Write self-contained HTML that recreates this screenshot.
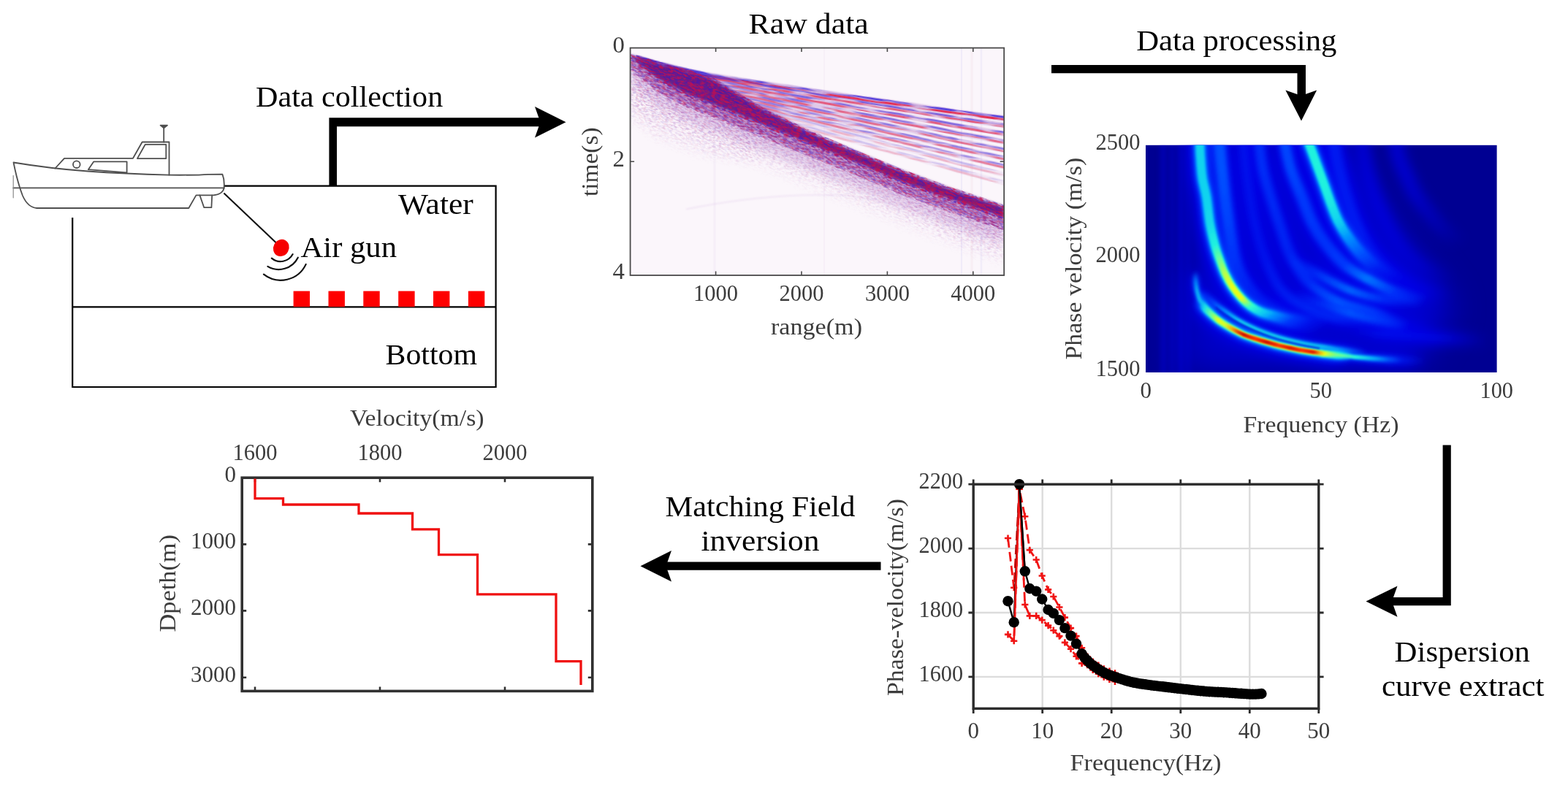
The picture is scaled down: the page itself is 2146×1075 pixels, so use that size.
<!DOCTYPE html>
<html lang="en">
<head>
<meta charset="utf-8">
<title>Workflow: data collection, processing, dispersion curve extraction and matching field inversion</title>
<style>
html,body{margin:0;padding:0;background:#fff;}
body{width:2146px;height:1075px;overflow:hidden;}
svg{display:block;font-family:"Liberation Serif", "DejaVu Serif", serif;}
text{white-space:pre;}
</style>
</head>
<body>
<svg width="2146" height="1075" viewBox="0 0 2146 1075">
<defs>
<clipPath id="rclip"><rect x="862.6" y="65.6" width="511.6" height="311.4"/></clipPath>
<filter id="spR" filterUnits="userSpaceOnUse" x="500" y="-400" width="1300" height="1100" color-interpolation-filters="sRGB"><feTurbulence type="fractalNoise" baseFrequency="0.15 0.50" numOctaves="2" seed="11" result="n"/><feColorMatrix in="n" type="matrix" values="0 0 0 0 0.78  0 0 0 0 0.06  0 0 0 0 0.3  6 0 0 0 -2.75" result="c"/><feComposite in="c" in2="SourceGraphic" operator="in"/></filter>
<filter id="spB" filterUnits="userSpaceOnUse" x="500" y="-400" width="1300" height="1100" color-interpolation-filters="sRGB"><feTurbulence type="fractalNoise" baseFrequency="0.15 0.50" numOctaves="2" seed="23" result="n"/><feColorMatrix in="n" type="matrix" values="0 0 0 0 0.27  0 0 0 0 0.08  0 0 0 0 0.74  0 6 0 0 -2.65" result="c"/><feComposite in="c" in2="SourceGraphic" operator="in"/></filter>
<filter id="hzR" filterUnits="userSpaceOnUse" x="500" y="-400" width="1300" height="1100" color-interpolation-filters="sRGB"><feGaussianBlur in="SourceGraphic" stdDeviation="7" result="sb"/><feTurbulence type="fractalNoise" baseFrequency="0.2 0.55" numOctaves="2" seed="61" result="n"/><feColorMatrix in="n" type="matrix" values="0 0 0 0 0.8  0 0 0 0 0.14  0 0 0 0 0.42  7 0 0 0 -3.55" result="c"/><feComposite in="c" in2="sb" operator="in"/></filter>
<filter id="hzB" filterUnits="userSpaceOnUse" x="500" y="-400" width="1300" height="1100" color-interpolation-filters="sRGB"><feGaussianBlur in="SourceGraphic" stdDeviation="7" result="sb"/><feTurbulence type="fractalNoise" baseFrequency="0.2 0.55" numOctaves="2" seed="67" result="n"/><feColorMatrix in="n" type="matrix" values="0 0 0 0 0.36  0 0 0 0 0.2  0 0 0 0 0.8  0 7 0 0 -3.55" result="c"/><feComposite in="c" in2="sb" operator="in"/></filter>
<filter id="hzP" filterUnits="userSpaceOnUse" x="500" y="-400" width="1300" height="1100" color-interpolation-filters="sRGB"><feGaussianBlur in="SourceGraphic" stdDeviation="7" result="sb"/><feTurbulence type="fractalNoise" baseFrequency="0.16 0.5" numOctaves="2" seed="37" result="n"/><feColorMatrix in="n" type="matrix" values="0 0 0 0 0.56  0 0 0 0 0.18  0 0 0 0 0.64  0 0 7 0 -3.55" result="c"/><feComposite in="c" in2="sb" operator="in"/></filter>
<filter id="fnR" filterUnits="userSpaceOnUse" x="500" y="-400" width="1300" height="1100" color-interpolation-filters="sRGB"><feGaussianBlur in="SourceGraphic" stdDeviation="0.6" result="sb"/><feTurbulence type="fractalNoise" baseFrequency="0.03 0.25" numOctaves="2" seed="41" result="n"/><feColorMatrix in="n" type="matrix" values="0 0 0 0 0.9  0 0 0 0 0.14  0 0 0 0 0.28  4 0 0 0 -1.25" result="c"/><feComposite in="c" in2="sb" operator="in"/></filter>
<filter id="fnB" filterUnits="userSpaceOnUse" x="500" y="-400" width="1300" height="1100" color-interpolation-filters="sRGB"><feGaussianBlur in="SourceGraphic" stdDeviation="0.7" result="sb"/><feTurbulence type="fractalNoise" baseFrequency="0.03 0.25" numOctaves="2" seed="53" result="n"/><feColorMatrix in="n" type="matrix" values="0 0 0 0 0.3  0 0 0 0 0.22  0 0 0 0 0.86  0 4 0 0 -1.35" result="c"/><feComposite in="c" in2="sb" operator="in"/></filter>
<filter id="rb1" filterUnits="userSpaceOnUse" x="800" y="0" width="640" height="440"><feGaussianBlur stdDeviation="0.8"/></filter>
<filter id="rb2" filterUnits="userSpaceOnUse" x="800" y="0" width="640" height="440"><feGaussianBlur stdDeviation="2"/></filter>
<filter id="rb6" filterUnits="userSpaceOnUse" x="800" y="0" width="640" height="440"><feGaussianBlur stdDeviation="7"/></filter>
<linearGradient id="hz1" gradientUnits="userSpaceOnUse" x1="1100" y1="198" x2="1077" y2="253"><stop offset="0" stop-color="#000" stop-opacity=".85"/><stop offset=".3" stop-color="#000" stop-opacity=".5"/><stop offset=".65" stop-color="#000" stop-opacity=".2"/><stop offset="1" stop-color="#000" stop-opacity="0"/></linearGradient>
<linearGradient id="hz2" gradientUnits="userSpaceOnUse" x1="930" y1="120" x2="900" y2="215"><stop offset="0" stop-color="#000" stop-opacity=".6"/><stop offset=".5" stop-color="#000" stop-opacity=".32"/><stop offset="1" stop-color="#000" stop-opacity="0"/></linearGradient>
<clipPath id="hclip"><rect x="1568.0" y="198.8" width="480.6" height="311.2"/></clipPath>
<filter id="hb1" x="1508.0" y="138.8" width="601" height="431" filterUnits="userSpaceOnUse"><feGaussianBlur stdDeviation="1.0"/></filter>
<filter id="hb2" x="1508.0" y="138.8" width="601" height="431" filterUnits="userSpaceOnUse"><feGaussianBlur stdDeviation="1.5"/></filter>
<filter id="hb3" x="1508.0" y="138.8" width="601" height="431" filterUnits="userSpaceOnUse"><feGaussianBlur stdDeviation="2.2"/></filter>
<filter id="hb4" x="1508.0" y="138.8" width="601" height="431" filterUnits="userSpaceOnUse"><feGaussianBlur stdDeviation="3.6"/></filter>
<filter id="hb8" x="1508.0" y="138.8" width="601" height="431" filterUnits="userSpaceOnUse"><feGaussianBlur stdDeviation="7.5"/></filter>
<filter id="hb20" x="1508.0" y="138.8" width="601" height="431" filterUnits="userSpaceOnUse"><feGaussianBlur stdDeviation="22"/></filter>
<linearGradient id="hgA00" gradientUnits="userSpaceOnUse" x1="1636.0" y1="372" x2="1654" y2="427"><stop offset="0.0000" stop-color="#0006e8" stop-opacity="0.00"/><stop offset="0.1992" stop-color="#0006e8" stop-opacity="1.00"/><stop offset="0.4388" stop-color="#0006e8" stop-opacity="1.00"/><stop offset="0.6918" stop-color="#0006e8" stop-opacity="1.00"/><stop offset="0.8757" stop-color="#0006e8" stop-opacity="1.00"/><stop offset="1.0000" stop-color="#0006e8" stop-opacity="0.00"/></linearGradient>
<linearGradient id="hgA01" gradientUnits="userSpaceOnUse" x1="1636.0" y1="372" x2="1654" y2="427"><stop offset="0.0000" stop-color="#0040ff" stop-opacity="0.00"/><stop offset="0.1992" stop-color="#0040ff" stop-opacity="1.00"/><stop offset="0.4388" stop-color="#0040ff" stop-opacity="1.00"/><stop offset="0.6918" stop-color="#0040ff" stop-opacity="1.00"/><stop offset="0.8757" stop-color="#0040ff" stop-opacity="1.00"/><stop offset="1.0000" stop-color="#0040ff" stop-opacity="0.00"/></linearGradient>
<linearGradient id="hgA02" gradientUnits="userSpaceOnUse" x1="1636.0" y1="372" x2="1654" y2="427"><stop offset="0.0000" stop-color="#00b4ff" stop-opacity="0.00"/><stop offset="0.1992" stop-color="#00b4ff" stop-opacity="0.57"/><stop offset="0.4388" stop-color="#00b4ff" stop-opacity="1.00"/><stop offset="0.6918" stop-color="#00b4ff" stop-opacity="1.00"/><stop offset="0.8757" stop-color="#00b4ff" stop-opacity="0.14"/><stop offset="1.0000" stop-color="#00b4ff" stop-opacity="0.00"/></linearGradient>
<linearGradient id="hgA03" gradientUnits="userSpaceOnUse" x1="1636.0" y1="372" x2="1654" y2="427"><stop offset="0.0000" stop-color="#28ffd8" stop-opacity="0.00"/><stop offset="0.1992" stop-color="#28ffd8" stop-opacity="0.00"/><stop offset="0.4388" stop-color="#28ffd8" stop-opacity="0.17"/><stop offset="0.6918" stop-color="#28ffd8" stop-opacity="0.33"/><stop offset="0.8757" stop-color="#28ffd8" stop-opacity="0.00"/><stop offset="1.0000" stop-color="#28ffd8" stop-opacity="0.00"/></linearGradient>
<linearGradient id="hgA0" gradientUnits="userSpaceOnUse" x1="1638.5" y1="402" x2="1850" y2="488.4"><stop offset="0.0000" stop-color="#0006e8" stop-opacity="0.00"/><stop offset="0.0373" stop-color="#0006e8" stop-opacity="1.00"/><stop offset="0.0727" stop-color="#0006e8" stop-opacity="1.00"/><stop offset="0.1262" stop-color="#0006e8" stop-opacity="1.00"/><stop offset="0.1785" stop-color="#0006e8" stop-opacity="1.00"/><stop offset="0.2268" stop-color="#0006e8" stop-opacity="1.00"/><stop offset="0.2746" stop-color="#0006e8" stop-opacity="1.00"/><stop offset="0.3523" stop-color="#0006e8" stop-opacity="1.00"/><stop offset="0.4254" stop-color="#0006e8" stop-opacity="1.00"/><stop offset="0.4972" stop-color="#0006e8" stop-opacity="1.00"/><stop offset="0.5685" stop-color="#0006e8" stop-opacity="1.00"/><stop offset="0.6383" stop-color="#0006e8" stop-opacity="1.00"/><stop offset="0.7080" stop-color="#0006e8" stop-opacity="1.00"/><stop offset="0.7762" stop-color="#0006e8" stop-opacity="1.00"/><stop offset="0.8134" stop-color="#0006e8" stop-opacity="1.00"/><stop offset="0.8436" stop-color="#0006e8" stop-opacity="1.00"/><stop offset="0.9221" stop-color="#0006e8" stop-opacity="1.00"/><stop offset="1.0000" stop-color="#0006e8" stop-opacity="0.00"/></linearGradient>
<linearGradient id="hgA1" gradientUnits="userSpaceOnUse" x1="1638.5" y1="402" x2="1850" y2="488.4"><stop offset="0.0000" stop-color="#0040ff" stop-opacity="0.00"/><stop offset="0.0373" stop-color="#0040ff" stop-opacity="1.00"/><stop offset="0.0727" stop-color="#0040ff" stop-opacity="1.00"/><stop offset="0.1262" stop-color="#0040ff" stop-opacity="1.00"/><stop offset="0.1785" stop-color="#0040ff" stop-opacity="1.00"/><stop offset="0.2268" stop-color="#0040ff" stop-opacity="1.00"/><stop offset="0.2746" stop-color="#0040ff" stop-opacity="1.00"/><stop offset="0.3523" stop-color="#0040ff" stop-opacity="1.00"/><stop offset="0.4254" stop-color="#0040ff" stop-opacity="1.00"/><stop offset="0.4972" stop-color="#0040ff" stop-opacity="1.00"/><stop offset="0.5685" stop-color="#0040ff" stop-opacity="1.00"/><stop offset="0.6383" stop-color="#0040ff" stop-opacity="1.00"/><stop offset="0.7080" stop-color="#0040ff" stop-opacity="1.00"/><stop offset="0.7762" stop-color="#0040ff" stop-opacity="1.00"/><stop offset="0.8134" stop-color="#0040ff" stop-opacity="1.00"/><stop offset="0.8436" stop-color="#0040ff" stop-opacity="1.00"/><stop offset="0.9221" stop-color="#0040ff" stop-opacity="1.00"/><stop offset="1.0000" stop-color="#0040ff" stop-opacity="0.00"/></linearGradient>
<linearGradient id="hgA2" gradientUnits="userSpaceOnUse" x1="1638.5" y1="402" x2="1850" y2="488.4"><stop offset="0.0000" stop-color="#00b4ff" stop-opacity="0.00"/><stop offset="0.0373" stop-color="#00b4ff" stop-opacity="0.14"/><stop offset="0.0727" stop-color="#00b4ff" stop-opacity="1.00"/><stop offset="0.1262" stop-color="#00b4ff" stop-opacity="1.00"/><stop offset="0.1785" stop-color="#00b4ff" stop-opacity="1.00"/><stop offset="0.2268" stop-color="#00b4ff" stop-opacity="1.00"/><stop offset="0.2746" stop-color="#00b4ff" stop-opacity="1.00"/><stop offset="0.3523" stop-color="#00b4ff" stop-opacity="1.00"/><stop offset="0.4254" stop-color="#00b4ff" stop-opacity="1.00"/><stop offset="0.4972" stop-color="#00b4ff" stop-opacity="1.00"/><stop offset="0.5685" stop-color="#00b4ff" stop-opacity="1.00"/><stop offset="0.6383" stop-color="#00b4ff" stop-opacity="1.00"/><stop offset="0.7080" stop-color="#00b4ff" stop-opacity="1.00"/><stop offset="0.7762" stop-color="#00b4ff" stop-opacity="1.00"/><stop offset="0.8134" stop-color="#00b4ff" stop-opacity="1.00"/><stop offset="0.8436" stop-color="#00b4ff" stop-opacity="1.00"/><stop offset="0.9221" stop-color="#00b4ff" stop-opacity="1.00"/><stop offset="1.0000" stop-color="#00b4ff" stop-opacity="0.00"/></linearGradient>
<linearGradient id="hgA3" gradientUnits="userSpaceOnUse" x1="1638.5" y1="402" x2="1850" y2="488.4"><stop offset="0.0000" stop-color="#28ffd8" stop-opacity="0.00"/><stop offset="0.0373" stop-color="#28ffd8" stop-opacity="0.00"/><stop offset="0.0727" stop-color="#28ffd8" stop-opacity="0.58"/><stop offset="0.1262" stop-color="#28ffd8" stop-opacity="1.00"/><stop offset="0.1785" stop-color="#28ffd8" stop-opacity="1.00"/><stop offset="0.2268" stop-color="#28ffd8" stop-opacity="1.00"/><stop offset="0.2746" stop-color="#28ffd8" stop-opacity="1.00"/><stop offset="0.3523" stop-color="#28ffd8" stop-opacity="1.00"/><stop offset="0.4254" stop-color="#28ffd8" stop-opacity="1.00"/><stop offset="0.4972" stop-color="#28ffd8" stop-opacity="1.00"/><stop offset="0.5685" stop-color="#28ffd8" stop-opacity="1.00"/><stop offset="0.6383" stop-color="#28ffd8" stop-opacity="1.00"/><stop offset="0.7080" stop-color="#28ffd8" stop-opacity="1.00"/><stop offset="0.7762" stop-color="#28ffd8" stop-opacity="1.00"/><stop offset="0.8134" stop-color="#28ffd8" stop-opacity="1.00"/><stop offset="0.8436" stop-color="#28ffd8" stop-opacity="1.00"/><stop offset="0.9221" stop-color="#28ffd8" stop-opacity="0.83"/><stop offset="1.0000" stop-color="#28ffd8" stop-opacity="0.00"/></linearGradient>
<linearGradient id="hgA4" gradientUnits="userSpaceOnUse" x1="1638.5" y1="402" x2="1850" y2="488.4"><stop offset="0.0000" stop-color="#e8ff18" stop-opacity="0.00"/><stop offset="0.0373" stop-color="#e8ff18" stop-opacity="0.00"/><stop offset="0.0727" stop-color="#e8ff18" stop-opacity="0.00"/><stop offset="0.1262" stop-color="#e8ff18" stop-opacity="0.37"/><stop offset="0.1785" stop-color="#e8ff18" stop-opacity="1.00"/><stop offset="0.2268" stop-color="#e8ff18" stop-opacity="0.88"/><stop offset="0.2746" stop-color="#e8ff18" stop-opacity="1.00"/><stop offset="0.3523" stop-color="#e8ff18" stop-opacity="1.00"/><stop offset="0.4254" stop-color="#e8ff18" stop-opacity="1.00"/><stop offset="0.4972" stop-color="#e8ff18" stop-opacity="1.00"/><stop offset="0.5685" stop-color="#e8ff18" stop-opacity="1.00"/><stop offset="0.6383" stop-color="#e8ff18" stop-opacity="1.00"/><stop offset="0.7080" stop-color="#e8ff18" stop-opacity="1.00"/><stop offset="0.7762" stop-color="#e8ff18" stop-opacity="1.00"/><stop offset="0.8134" stop-color="#e8ff18" stop-opacity="1.00"/><stop offset="0.8436" stop-color="#e8ff18" stop-opacity="1.00"/><stop offset="0.9221" stop-color="#e8ff18" stop-opacity="0.00"/><stop offset="1.0000" stop-color="#e8ff18" stop-opacity="0.00"/></linearGradient>
<linearGradient id="hgA5" gradientUnits="userSpaceOnUse" x1="1638.5" y1="402" x2="1850" y2="488.4"><stop offset="0.0000" stop-color="#ff3000" stop-opacity="0.00"/><stop offset="0.0373" stop-color="#ff3000" stop-opacity="0.00"/><stop offset="0.0727" stop-color="#ff3000" stop-opacity="0.00"/><stop offset="0.1262" stop-color="#ff3000" stop-opacity="0.00"/><stop offset="0.1785" stop-color="#ff3000" stop-opacity="0.00"/><stop offset="0.2268" stop-color="#ff3000" stop-opacity="0.00"/><stop offset="0.2746" stop-color="#ff3000" stop-opacity="0.43"/><stop offset="0.3523" stop-color="#ff3000" stop-opacity="1.00"/><stop offset="0.4254" stop-color="#ff3000" stop-opacity="1.00"/><stop offset="0.4972" stop-color="#ff3000" stop-opacity="1.00"/><stop offset="0.5685" stop-color="#ff3000" stop-opacity="1.00"/><stop offset="0.6383" stop-color="#ff3000" stop-opacity="1.00"/><stop offset="0.7080" stop-color="#ff3000" stop-opacity="1.00"/><stop offset="0.7762" stop-color="#ff3000" stop-opacity="1.00"/><stop offset="0.8134" stop-color="#ff3000" stop-opacity="0.43"/><stop offset="0.8436" stop-color="#ff3000" stop-opacity="0.00"/><stop offset="0.9221" stop-color="#ff3000" stop-opacity="0.00"/><stop offset="1.0000" stop-color="#ff3000" stop-opacity="0.00"/></linearGradient>
<linearGradient id="hgA6" gradientUnits="userSpaceOnUse" x1="1638.5" y1="402" x2="1850" y2="488.4"><stop offset="0.0000" stop-color="#a80000" stop-opacity="0.00"/><stop offset="0.0373" stop-color="#a80000" stop-opacity="0.00"/><stop offset="0.0727" stop-color="#a80000" stop-opacity="0.00"/><stop offset="0.1262" stop-color="#a80000" stop-opacity="0.00"/><stop offset="0.1785" stop-color="#a80000" stop-opacity="0.00"/><stop offset="0.2268" stop-color="#a80000" stop-opacity="0.00"/><stop offset="0.2746" stop-color="#a80000" stop-opacity="0.00"/><stop offset="0.3523" stop-color="#a80000" stop-opacity="0.71"/><stop offset="0.4254" stop-color="#a80000" stop-opacity="0.00"/><stop offset="0.4972" stop-color="#a80000" stop-opacity="0.71"/><stop offset="0.5685" stop-color="#a80000" stop-opacity="0.00"/><stop offset="0.6383" stop-color="#a80000" stop-opacity="0.57"/><stop offset="0.7080" stop-color="#a80000" stop-opacity="0.00"/><stop offset="0.7762" stop-color="#a80000" stop-opacity="0.43"/><stop offset="0.8134" stop-color="#a80000" stop-opacity="0.00"/><stop offset="0.8436" stop-color="#a80000" stop-opacity="0.00"/><stop offset="0.9221" stop-color="#a80000" stop-opacity="0.00"/><stop offset="1.0000" stop-color="#a80000" stop-opacity="0.00"/></linearGradient>
<linearGradient id="hgAt0" gradientUnits="userSpaceOnUse" x1="1800" y1="482.6" x2="1950" y2="494.5"><stop offset="0.0000" stop-color="#0006e8" stop-opacity="0.00"/><stop offset="0.1005" stop-color="#0006e8" stop-opacity="1.00"/><stop offset="0.2113" stop-color="#0006e8" stop-opacity="1.00"/><stop offset="0.3676" stop-color="#0006e8" stop-opacity="1.00"/><stop offset="0.5277" stop-color="#0006e8" stop-opacity="1.00"/><stop offset="0.6675" stop-color="#0006e8" stop-opacity="1.00"/><stop offset="0.7912" stop-color="#0006e8" stop-opacity="1.00"/><stop offset="1.0000" stop-color="#0006e8" stop-opacity="0.00"/></linearGradient>
<linearGradient id="hgAt1" gradientUnits="userSpaceOnUse" x1="1800" y1="482.6" x2="1950" y2="494.5"><stop offset="0.0000" stop-color="#0040ff" stop-opacity="0.00"/><stop offset="0.1005" stop-color="#0040ff" stop-opacity="1.00"/><stop offset="0.2113" stop-color="#0040ff" stop-opacity="1.00"/><stop offset="0.3676" stop-color="#0040ff" stop-opacity="1.00"/><stop offset="0.5277" stop-color="#0040ff" stop-opacity="1.00"/><stop offset="0.6675" stop-color="#0040ff" stop-opacity="1.00"/><stop offset="0.7912" stop-color="#0040ff" stop-opacity="0.38"/><stop offset="1.0000" stop-color="#0040ff" stop-opacity="0.00"/></linearGradient>
<linearGradient id="hgAt2" gradientUnits="userSpaceOnUse" x1="1800" y1="482.6" x2="1950" y2="494.5"><stop offset="0.0000" stop-color="#00b4ff" stop-opacity="0.00"/><stop offset="0.1005" stop-color="#00b4ff" stop-opacity="0.86"/><stop offset="0.2113" stop-color="#00b4ff" stop-opacity="1.00"/><stop offset="0.3676" stop-color="#00b4ff" stop-opacity="1.00"/><stop offset="0.5277" stop-color="#00b4ff" stop-opacity="1.00"/><stop offset="0.6675" stop-color="#00b4ff" stop-opacity="0.29"/><stop offset="0.7912" stop-color="#00b4ff" stop-opacity="0.00"/><stop offset="1.0000" stop-color="#00b4ff" stop-opacity="0.00"/></linearGradient>
<linearGradient id="hgAt3" gradientUnits="userSpaceOnUse" x1="1800" y1="482.6" x2="1950" y2="494.5"><stop offset="0.0000" stop-color="#28ffd8" stop-opacity="0.00"/><stop offset="0.1005" stop-color="#28ffd8" stop-opacity="0.00"/><stop offset="0.2113" stop-color="#28ffd8" stop-opacity="1.00"/><stop offset="0.3676" stop-color="#28ffd8" stop-opacity="1.00"/><stop offset="0.5277" stop-color="#28ffd8" stop-opacity="0.17"/><stop offset="0.6675" stop-color="#28ffd8" stop-opacity="0.00"/><stop offset="0.7912" stop-color="#28ffd8" stop-opacity="0.00"/><stop offset="1.0000" stop-color="#28ffd8" stop-opacity="0.00"/></linearGradient>
<linearGradient id="hgAt4" gradientUnits="userSpaceOnUse" x1="1800" y1="482.6" x2="1950" y2="494.5"><stop offset="0.0000" stop-color="#e8ff18" stop-opacity="0.00"/><stop offset="0.1005" stop-color="#e8ff18" stop-opacity="0.00"/><stop offset="0.2113" stop-color="#e8ff18" stop-opacity="0.50"/><stop offset="0.3676" stop-color="#e8ff18" stop-opacity="0.00"/><stop offset="0.5277" stop-color="#e8ff18" stop-opacity="0.00"/><stop offset="0.6675" stop-color="#e8ff18" stop-opacity="0.00"/><stop offset="0.7912" stop-color="#e8ff18" stop-opacity="0.00"/><stop offset="1.0000" stop-color="#e8ff18" stop-opacity="0.00"/></linearGradient>
<linearGradient id="hgA20" gradientUnits="userSpaceOnUse" x1="1648" y1="400" x2="1870" y2="483"><stop offset="0.0000" stop-color="#0006e8" stop-opacity="0.00"/><stop offset="0.0674" stop-color="#0006e8" stop-opacity="1.00"/><stop offset="0.1518" stop-color="#0006e8" stop-opacity="1.00"/><stop offset="0.2520" stop-color="#0006e8" stop-opacity="1.00"/><stop offset="0.3532" stop-color="#0006e8" stop-opacity="1.00"/><stop offset="0.4500" stop-color="#0006e8" stop-opacity="1.00"/><stop offset="0.5379" stop-color="#0006e8" stop-opacity="1.00"/><stop offset="0.6453" stop-color="#0006e8" stop-opacity="1.00"/><stop offset="0.7535" stop-color="#0006e8" stop-opacity="1.00"/><stop offset="0.8755" stop-color="#0006e8" stop-opacity="1.00"/><stop offset="1.0000" stop-color="#0006e8" stop-opacity="0.00"/></linearGradient>
<linearGradient id="hgA21" gradientUnits="userSpaceOnUse" x1="1648" y1="400" x2="1870" y2="483"><stop offset="0.0000" stop-color="#0040ff" stop-opacity="0.00"/><stop offset="0.0674" stop-color="#0040ff" stop-opacity="1.00"/><stop offset="0.1518" stop-color="#0040ff" stop-opacity="1.00"/><stop offset="0.2520" stop-color="#0040ff" stop-opacity="1.00"/><stop offset="0.3532" stop-color="#0040ff" stop-opacity="1.00"/><stop offset="0.4500" stop-color="#0040ff" stop-opacity="1.00"/><stop offset="0.5379" stop-color="#0040ff" stop-opacity="1.00"/><stop offset="0.6453" stop-color="#0040ff" stop-opacity="1.00"/><stop offset="0.7535" stop-color="#0040ff" stop-opacity="1.00"/><stop offset="0.8755" stop-color="#0040ff" stop-opacity="1.00"/><stop offset="1.0000" stop-color="#0040ff" stop-opacity="0.00"/></linearGradient>
<linearGradient id="hgA22" gradientUnits="userSpaceOnUse" x1="1648" y1="400" x2="1870" y2="483"><stop offset="0.0000" stop-color="#00b4ff" stop-opacity="0.00"/><stop offset="0.0674" stop-color="#00b4ff" stop-opacity="0.14"/><stop offset="0.1518" stop-color="#00b4ff" stop-opacity="0.86"/><stop offset="0.2520" stop-color="#00b4ff" stop-opacity="1.00"/><stop offset="0.3532" stop-color="#00b4ff" stop-opacity="1.00"/><stop offset="0.4500" stop-color="#00b4ff" stop-opacity="1.00"/><stop offset="0.5379" stop-color="#00b4ff" stop-opacity="1.00"/><stop offset="0.6453" stop-color="#00b4ff" stop-opacity="1.00"/><stop offset="0.7535" stop-color="#00b4ff" stop-opacity="1.00"/><stop offset="0.8755" stop-color="#00b4ff" stop-opacity="0.57"/><stop offset="1.0000" stop-color="#00b4ff" stop-opacity="0.00"/></linearGradient>
<linearGradient id="hgA23" gradientUnits="userSpaceOnUse" x1="1648" y1="400" x2="1870" y2="483"><stop offset="0.0000" stop-color="#28ffd8" stop-opacity="0.00"/><stop offset="0.0674" stop-color="#28ffd8" stop-opacity="0.00"/><stop offset="0.1518" stop-color="#28ffd8" stop-opacity="0.00"/><stop offset="0.2520" stop-color="#28ffd8" stop-opacity="0.50"/><stop offset="0.3532" stop-color="#28ffd8" stop-opacity="0.58"/><stop offset="0.4500" stop-color="#28ffd8" stop-opacity="0.58"/><stop offset="0.5379" stop-color="#28ffd8" stop-opacity="0.58"/><stop offset="0.6453" stop-color="#28ffd8" stop-opacity="0.50"/><stop offset="0.7535" stop-color="#28ffd8" stop-opacity="0.33"/><stop offset="0.8755" stop-color="#28ffd8" stop-opacity="0.00"/><stop offset="1.0000" stop-color="#28ffd8" stop-opacity="0.00"/></linearGradient>
<linearGradient id="hgB0" gradientUnits="userSpaceOnUse" x1="1641.6" y1="185" x2="1815" y2="447"><stop offset="0.0000" stop-color="#0006e8" stop-opacity="1.00"/><stop offset="0.0821" stop-color="#0006e8" stop-opacity="1.00"/><stop offset="0.1616" stop-color="#0006e8" stop-opacity="1.00"/><stop offset="0.2395" stop-color="#0006e8" stop-opacity="1.00"/><stop offset="0.3478" stop-color="#0006e8" stop-opacity="1.00"/><stop offset="0.4380" stop-color="#0006e8" stop-opacity="1.00"/><stop offset="0.5027" stop-color="#0006e8" stop-opacity="1.00"/><stop offset="0.5643" stop-color="#0006e8" stop-opacity="1.00"/><stop offset="0.6301" stop-color="#0006e8" stop-opacity="1.00"/><stop offset="0.6944" stop-color="#0006e8" stop-opacity="1.00"/><stop offset="0.7460" stop-color="#0006e8" stop-opacity="1.00"/><stop offset="0.7919" stop-color="#0006e8" stop-opacity="1.00"/><stop offset="0.8326" stop-color="#0006e8" stop-opacity="1.00"/><stop offset="0.8909" stop-color="#0006e8" stop-opacity="1.00"/><stop offset="0.9452" stop-color="#0006e8" stop-opacity="1.00"/><stop offset="1.0000" stop-color="#0006e8" stop-opacity="0.00"/></linearGradient>
<linearGradient id="hgB1" gradientUnits="userSpaceOnUse" x1="1641.6" y1="185" x2="1815" y2="447"><stop offset="0.0000" stop-color="#0040ff" stop-opacity="1.00"/><stop offset="0.0821" stop-color="#0040ff" stop-opacity="1.00"/><stop offset="0.1616" stop-color="#0040ff" stop-opacity="1.00"/><stop offset="0.2395" stop-color="#0040ff" stop-opacity="1.00"/><stop offset="0.3478" stop-color="#0040ff" stop-opacity="1.00"/><stop offset="0.4380" stop-color="#0040ff" stop-opacity="1.00"/><stop offset="0.5027" stop-color="#0040ff" stop-opacity="1.00"/><stop offset="0.5643" stop-color="#0040ff" stop-opacity="1.00"/><stop offset="0.6301" stop-color="#0040ff" stop-opacity="1.00"/><stop offset="0.6944" stop-color="#0040ff" stop-opacity="1.00"/><stop offset="0.7460" stop-color="#0040ff" stop-opacity="1.00"/><stop offset="0.7919" stop-color="#0040ff" stop-opacity="1.00"/><stop offset="0.8326" stop-color="#0040ff" stop-opacity="1.00"/><stop offset="0.8909" stop-color="#0040ff" stop-opacity="0.88"/><stop offset="0.9452" stop-color="#0040ff" stop-opacity="0.25"/><stop offset="1.0000" stop-color="#0040ff" stop-opacity="0.00"/></linearGradient>
<linearGradient id="hgB2" gradientUnits="userSpaceOnUse" x1="1641.6" y1="185" x2="1815" y2="447"><stop offset="0.0000" stop-color="#00b4ff" stop-opacity="1.00"/><stop offset="0.0821" stop-color="#00b4ff" stop-opacity="1.00"/><stop offset="0.1616" stop-color="#00b4ff" stop-opacity="1.00"/><stop offset="0.2395" stop-color="#00b4ff" stop-opacity="1.00"/><stop offset="0.3478" stop-color="#00b4ff" stop-opacity="1.00"/><stop offset="0.4380" stop-color="#00b4ff" stop-opacity="1.00"/><stop offset="0.5027" stop-color="#00b4ff" stop-opacity="1.00"/><stop offset="0.5643" stop-color="#00b4ff" stop-opacity="1.00"/><stop offset="0.6301" stop-color="#00b4ff" stop-opacity="1.00"/><stop offset="0.6944" stop-color="#00b4ff" stop-opacity="1.00"/><stop offset="0.7460" stop-color="#00b4ff" stop-opacity="1.00"/><stop offset="0.7919" stop-color="#00b4ff" stop-opacity="1.00"/><stop offset="0.8326" stop-color="#00b4ff" stop-opacity="0.71"/><stop offset="0.8909" stop-color="#00b4ff" stop-opacity="0.00"/><stop offset="0.9452" stop-color="#00b4ff" stop-opacity="0.00"/><stop offset="1.0000" stop-color="#00b4ff" stop-opacity="0.00"/></linearGradient>
<linearGradient id="hgB3" gradientUnits="userSpaceOnUse" x1="1641.6" y1="185" x2="1815" y2="447"><stop offset="0.0000" stop-color="#28ffd8" stop-opacity="0.42"/><stop offset="0.0821" stop-color="#28ffd8" stop-opacity="0.42"/><stop offset="0.1616" stop-color="#28ffd8" stop-opacity="0.42"/><stop offset="0.2395" stop-color="#28ffd8" stop-opacity="0.42"/><stop offset="0.3478" stop-color="#28ffd8" stop-opacity="0.50"/><stop offset="0.4380" stop-color="#28ffd8" stop-opacity="0.83"/><stop offset="0.5027" stop-color="#28ffd8" stop-opacity="1.00"/><stop offset="0.5643" stop-color="#28ffd8" stop-opacity="1.00"/><stop offset="0.6301" stop-color="#28ffd8" stop-opacity="1.00"/><stop offset="0.6944" stop-color="#28ffd8" stop-opacity="1.00"/><stop offset="0.7460" stop-color="#28ffd8" stop-opacity="1.00"/><stop offset="0.7919" stop-color="#28ffd8" stop-opacity="0.42"/><stop offset="0.8326" stop-color="#28ffd8" stop-opacity="0.00"/><stop offset="0.8909" stop-color="#28ffd8" stop-opacity="0.00"/><stop offset="0.9452" stop-color="#28ffd8" stop-opacity="0.00"/><stop offset="1.0000" stop-color="#28ffd8" stop-opacity="0.00"/></linearGradient>
<linearGradient id="hgB4" gradientUnits="userSpaceOnUse" x1="1641.6" y1="185" x2="1815" y2="447"><stop offset="0.0000" stop-color="#e8ff18" stop-opacity="0.00"/><stop offset="0.0821" stop-color="#e8ff18" stop-opacity="0.00"/><stop offset="0.1616" stop-color="#e8ff18" stop-opacity="0.00"/><stop offset="0.2395" stop-color="#e8ff18" stop-opacity="0.00"/><stop offset="0.3478" stop-color="#e8ff18" stop-opacity="0.00"/><stop offset="0.4380" stop-color="#e8ff18" stop-opacity="0.00"/><stop offset="0.5027" stop-color="#e8ff18" stop-opacity="0.37"/><stop offset="0.5643" stop-color="#e8ff18" stop-opacity="0.75"/><stop offset="0.6301" stop-color="#e8ff18" stop-opacity="1.00"/><stop offset="0.6944" stop-color="#e8ff18" stop-opacity="1.00"/><stop offset="0.7460" stop-color="#e8ff18" stop-opacity="0.06"/><stop offset="0.7919" stop-color="#e8ff18" stop-opacity="0.00"/><stop offset="0.8326" stop-color="#e8ff18" stop-opacity="0.00"/><stop offset="0.8909" stop-color="#e8ff18" stop-opacity="0.00"/><stop offset="0.9452" stop-color="#e8ff18" stop-opacity="0.00"/><stop offset="1.0000" stop-color="#e8ff18" stop-opacity="0.00"/></linearGradient>
<linearGradient id="hgC0" gradientUnits="userSpaceOnUse" x1="1787.5" y1="185" x2="1910" y2="384"><stop offset="0.0000" stop-color="#0006e8" stop-opacity="1.00"/><stop offset="0.0926" stop-color="#0006e8" stop-opacity="1.00"/><stop offset="0.1896" stop-color="#0006e8" stop-opacity="1.00"/><stop offset="0.3123" stop-color="#0006e8" stop-opacity="1.00"/><stop offset="0.4236" stop-color="#0006e8" stop-opacity="1.00"/><stop offset="0.5289" stop-color="#0006e8" stop-opacity="1.00"/><stop offset="0.6392" stop-color="#0006e8" stop-opacity="1.00"/><stop offset="0.7640" stop-color="#0006e8" stop-opacity="1.00"/><stop offset="0.8856" stop-color="#0006e8" stop-opacity="1.00"/><stop offset="1.0000" stop-color="#0006e8" stop-opacity="0.00"/></linearGradient>
<linearGradient id="hgC1" gradientUnits="userSpaceOnUse" x1="1787.5" y1="185" x2="1910" y2="384"><stop offset="0.0000" stop-color="#0040ff" stop-opacity="1.00"/><stop offset="0.0926" stop-color="#0040ff" stop-opacity="1.00"/><stop offset="0.1896" stop-color="#0040ff" stop-opacity="1.00"/><stop offset="0.3123" stop-color="#0040ff" stop-opacity="1.00"/><stop offset="0.4236" stop-color="#0040ff" stop-opacity="1.00"/><stop offset="0.5289" stop-color="#0040ff" stop-opacity="1.00"/><stop offset="0.6392" stop-color="#0040ff" stop-opacity="1.00"/><stop offset="0.7640" stop-color="#0040ff" stop-opacity="1.00"/><stop offset="0.8856" stop-color="#0040ff" stop-opacity="0.38"/><stop offset="1.0000" stop-color="#0040ff" stop-opacity="0.00"/></linearGradient>
<linearGradient id="hgC2" gradientUnits="userSpaceOnUse" x1="1787.5" y1="185" x2="1910" y2="384"><stop offset="0.0000" stop-color="#00b4ff" stop-opacity="1.00"/><stop offset="0.0926" stop-color="#00b4ff" stop-opacity="1.00"/><stop offset="0.1896" stop-color="#00b4ff" stop-opacity="1.00"/><stop offset="0.3123" stop-color="#00b4ff" stop-opacity="1.00"/><stop offset="0.4236" stop-color="#00b4ff" stop-opacity="1.00"/><stop offset="0.5289" stop-color="#00b4ff" stop-opacity="1.00"/><stop offset="0.6392" stop-color="#00b4ff" stop-opacity="0.71"/><stop offset="0.7640" stop-color="#00b4ff" stop-opacity="0.14"/><stop offset="0.8856" stop-color="#00b4ff" stop-opacity="0.00"/><stop offset="1.0000" stop-color="#00b4ff" stop-opacity="0.00"/></linearGradient>
<linearGradient id="hgC3" gradientUnits="userSpaceOnUse" x1="1787.5" y1="185" x2="1910" y2="384"><stop offset="0.0000" stop-color="#28ffd8" stop-opacity="0.83"/><stop offset="0.0926" stop-color="#28ffd8" stop-opacity="0.83"/><stop offset="0.1896" stop-color="#28ffd8" stop-opacity="0.83"/><stop offset="0.3123" stop-color="#28ffd8" stop-opacity="0.83"/><stop offset="0.4236" stop-color="#28ffd8" stop-opacity="0.67"/><stop offset="0.5289" stop-color="#28ffd8" stop-opacity="0.42"/><stop offset="0.6392" stop-color="#28ffd8" stop-opacity="0.00"/><stop offset="0.7640" stop-color="#28ffd8" stop-opacity="0.00"/><stop offset="0.8856" stop-color="#28ffd8" stop-opacity="0.00"/><stop offset="1.0000" stop-color="#28ffd8" stop-opacity="0.00"/></linearGradient>
<linearGradient id="hgD10" gradientUnits="userSpaceOnUse" x1="1668" y1="185" x2="1800" y2="440"><stop offset="0.0000" stop-color="#0006e8" stop-opacity="1.00"/><stop offset="0.1456" stop-color="#0006e8" stop-opacity="1.00"/><stop offset="0.3424" stop-color="#0006e8" stop-opacity="1.00"/><stop offset="0.5636" stop-color="#0006e8" stop-opacity="1.00"/><stop offset="0.6933" stop-color="#0006e8" stop-opacity="1.00"/><stop offset="0.8061" stop-color="#0006e8" stop-opacity="1.00"/><stop offset="0.9050" stop-color="#0006e8" stop-opacity="1.00"/><stop offset="1.0000" stop-color="#0006e8" stop-opacity="0.00"/></linearGradient>
<linearGradient id="hgD11" gradientUnits="userSpaceOnUse" x1="1668" y1="185" x2="1800" y2="440"><stop offset="0.0000" stop-color="#0040ff" stop-opacity="1.00"/><stop offset="0.1456" stop-color="#0040ff" stop-opacity="1.00"/><stop offset="0.3424" stop-color="#0040ff" stop-opacity="0.94"/><stop offset="0.5636" stop-color="#0040ff" stop-opacity="0.75"/><stop offset="0.6933" stop-color="#0040ff" stop-opacity="0.50"/><stop offset="0.8061" stop-color="#0040ff" stop-opacity="0.38"/><stop offset="0.9050" stop-color="#0040ff" stop-opacity="0.06"/><stop offset="1.0000" stop-color="#0040ff" stop-opacity="0.00"/></linearGradient>
<linearGradient id="hgD12" gradientUnits="userSpaceOnUse" x1="1668" y1="185" x2="1800" y2="440"><stop offset="0.0000" stop-color="#00b4ff" stop-opacity="0.14"/><stop offset="0.1456" stop-color="#00b4ff" stop-opacity="0.14"/><stop offset="0.3424" stop-color="#00b4ff" stop-opacity="0.07"/><stop offset="0.5636" stop-color="#00b4ff" stop-opacity="0.00"/><stop offset="0.6933" stop-color="#00b4ff" stop-opacity="0.00"/><stop offset="0.8061" stop-color="#00b4ff" stop-opacity="0.00"/><stop offset="0.9050" stop-color="#00b4ff" stop-opacity="0.00"/><stop offset="1.0000" stop-color="#00b4ff" stop-opacity="0.00"/></linearGradient>
<linearGradient id="hgD1b0" gradientUnits="userSpaceOnUse" x1="1655" y1="185" x2="1715" y2="420"><stop offset="0.0000" stop-color="#0006e8" stop-opacity="1.00"/><stop offset="0.2228" stop-color="#0006e8" stop-opacity="1.00"/><stop offset="0.5106" stop-color="#0006e8" stop-opacity="1.00"/><stop offset="0.7425" stop-color="#0006e8" stop-opacity="1.00"/><stop offset="0.8907" stop-color="#0006e8" stop-opacity="0.71"/><stop offset="1.0000" stop-color="#0006e8" stop-opacity="0.00"/></linearGradient>
<linearGradient id="hgD1b1" gradientUnits="userSpaceOnUse" x1="1655" y1="185" x2="1715" y2="420"><stop offset="0.0000" stop-color="#0040ff" stop-opacity="0.38"/><stop offset="0.2228" stop-color="#0040ff" stop-opacity="0.38"/><stop offset="0.5106" stop-color="#0040ff" stop-opacity="0.38"/><stop offset="0.7425" stop-color="#0040ff" stop-opacity="0.25"/><stop offset="0.8907" stop-color="#0040ff" stop-opacity="0.00"/><stop offset="1.0000" stop-color="#0040ff" stop-opacity="0.00"/></linearGradient>
<linearGradient id="hgD40" gradientUnits="userSpaceOnUse" x1="1700" y1="185" x2="1930" y2="447"><stop offset="0.0000" stop-color="#0006e8" stop-opacity="1.00"/><stop offset="0.1299" stop-color="#0006e8" stop-opacity="1.00"/><stop offset="0.2782" stop-color="#0006e8" stop-opacity="1.00"/><stop offset="0.4124" stop-color="#0006e8" stop-opacity="1.00"/><stop offset="0.5511" stop-color="#0006e8" stop-opacity="1.00"/><stop offset="0.6674" stop-color="#0006e8" stop-opacity="1.00"/><stop offset="0.7871" stop-color="#0006e8" stop-opacity="1.00"/><stop offset="0.9223" stop-color="#0006e8" stop-opacity="0.86"/><stop offset="1.0000" stop-color="#0006e8" stop-opacity="0.00"/></linearGradient>
<linearGradient id="hgD41" gradientUnits="userSpaceOnUse" x1="1700" y1="185" x2="1930" y2="447"><stop offset="0.0000" stop-color="#0040ff" stop-opacity="0.25"/><stop offset="0.1299" stop-color="#0040ff" stop-opacity="0.25"/><stop offset="0.2782" stop-color="#0040ff" stop-opacity="0.25"/><stop offset="0.4124" stop-color="#0040ff" stop-opacity="0.25"/><stop offset="0.5511" stop-color="#0040ff" stop-opacity="0.38"/><stop offset="0.6674" stop-color="#0040ff" stop-opacity="0.50"/><stop offset="0.7871" stop-color="#0040ff" stop-opacity="0.50"/><stop offset="0.9223" stop-color="#0040ff" stop-opacity="0.00"/><stop offset="1.0000" stop-color="#0040ff" stop-opacity="0.00"/></linearGradient>
<linearGradient id="hgD20" gradientUnits="userSpaceOnUse" x1="1722" y1="185" x2="1926.5" y2="448"><stop offset="0.0000" stop-color="#0006e8" stop-opacity="1.00"/><stop offset="0.1177" stop-color="#0006e8" stop-opacity="1.00"/><stop offset="0.2298" stop-color="#0006e8" stop-opacity="1.00"/><stop offset="0.3515" stop-color="#0006e8" stop-opacity="1.00"/><stop offset="0.4666" stop-color="#0006e8" stop-opacity="1.00"/><stop offset="0.5992" stop-color="#0006e8" stop-opacity="1.00"/><stop offset="0.7369" stop-color="#0006e8" stop-opacity="1.00"/><stop offset="0.8669" stop-color="#0006e8" stop-opacity="1.00"/><stop offset="1.0000" stop-color="#0006e8" stop-opacity="0.00"/></linearGradient>
<linearGradient id="hgD21" gradientUnits="userSpaceOnUse" x1="1722" y1="185" x2="1926.5" y2="448"><stop offset="0.0000" stop-color="#0040ff" stop-opacity="0.69"/><stop offset="0.1177" stop-color="#0040ff" stop-opacity="0.69"/><stop offset="0.2298" stop-color="#0040ff" stop-opacity="0.62"/><stop offset="0.3515" stop-color="#0040ff" stop-opacity="0.56"/><stop offset="0.4666" stop-color="#0040ff" stop-opacity="0.50"/><stop offset="0.5992" stop-color="#0040ff" stop-opacity="0.62"/><stop offset="0.7369" stop-color="#0040ff" stop-opacity="1.00"/><stop offset="0.8669" stop-color="#0040ff" stop-opacity="0.81"/><stop offset="1.0000" stop-color="#0040ff" stop-opacity="0.00"/></linearGradient>
<linearGradient id="hgD22" gradientUnits="userSpaceOnUse" x1="1722" y1="185" x2="1926.5" y2="448"><stop offset="0.0000" stop-color="#00b4ff" stop-opacity="0.00"/><stop offset="0.1177" stop-color="#00b4ff" stop-opacity="0.00"/><stop offset="0.2298" stop-color="#00b4ff" stop-opacity="0.00"/><stop offset="0.3515" stop-color="#00b4ff" stop-opacity="0.00"/><stop offset="0.4666" stop-color="#00b4ff" stop-opacity="0.00"/><stop offset="0.5992" stop-color="#00b4ff" stop-opacity="0.00"/><stop offset="0.7369" stop-color="#00b4ff" stop-opacity="0.14"/><stop offset="0.8669" stop-color="#00b4ff" stop-opacity="0.00"/><stop offset="1.0000" stop-color="#00b4ff" stop-opacity="0.00"/></linearGradient>
<linearGradient id="hgD30" gradientUnits="userSpaceOnUse" x1="1756" y1="185" x2="1950" y2="413"><stop offset="0.0000" stop-color="#0006e8" stop-opacity="1.00"/><stop offset="0.1361" stop-color="#0006e8" stop-opacity="1.00"/><stop offset="0.2687" stop-color="#0006e8" stop-opacity="1.00"/><stop offset="0.3919" stop-color="#0006e8" stop-opacity="1.00"/><stop offset="0.4974" stop-color="#0006e8" stop-opacity="1.00"/><stop offset="0.6321" stop-color="#0006e8" stop-opacity="1.00"/><stop offset="0.7491" stop-color="#0006e8" stop-opacity="1.00"/><stop offset="0.8834" stop-color="#0006e8" stop-opacity="1.00"/><stop offset="1.0000" stop-color="#0006e8" stop-opacity="0.00"/></linearGradient>
<linearGradient id="hgD31" gradientUnits="userSpaceOnUse" x1="1756" y1="185" x2="1950" y2="413"><stop offset="0.0000" stop-color="#0040ff" stop-opacity="0.94"/><stop offset="0.1361" stop-color="#0040ff" stop-opacity="0.94"/><stop offset="0.2687" stop-color="#0040ff" stop-opacity="0.88"/><stop offset="0.3919" stop-color="#0040ff" stop-opacity="0.81"/><stop offset="0.4974" stop-color="#0040ff" stop-opacity="0.75"/><stop offset="0.6321" stop-color="#0040ff" stop-opacity="0.88"/><stop offset="0.7491" stop-color="#0040ff" stop-opacity="1.00"/><stop offset="0.8834" stop-color="#0040ff" stop-opacity="0.69"/><stop offset="1.0000" stop-color="#0040ff" stop-opacity="0.00"/></linearGradient>
<linearGradient id="hgD32" gradientUnits="userSpaceOnUse" x1="1756" y1="185" x2="1950" y2="413"><stop offset="0.0000" stop-color="#00b4ff" stop-opacity="0.07"/><stop offset="0.1361" stop-color="#00b4ff" stop-opacity="0.07"/><stop offset="0.2687" stop-color="#00b4ff" stop-opacity="0.00"/><stop offset="0.3919" stop-color="#00b4ff" stop-opacity="0.00"/><stop offset="0.4974" stop-color="#00b4ff" stop-opacity="0.00"/><stop offset="0.6321" stop-color="#00b4ff" stop-opacity="0.00"/><stop offset="0.7491" stop-color="#00b4ff" stop-opacity="0.43"/><stop offset="0.8834" stop-color="#00b4ff" stop-opacity="0.00"/><stop offset="1.0000" stop-color="#00b4ff" stop-opacity="0.00"/></linearGradient>
<linearGradient id="hgS10" gradientUnits="userSpaceOnUse" x1="1760" y1="352" x2="1950" y2="413"><stop offset="0.0000" stop-color="#0006e8" stop-opacity="0.00"/><stop offset="0.2241" stop-color="#0006e8" stop-opacity="1.00"/><stop offset="0.4872" stop-color="#0006e8" stop-opacity="1.00"/><stop offset="0.7330" stop-color="#0006e8" stop-opacity="1.00"/><stop offset="1.0000" stop-color="#0006e8" stop-opacity="0.00"/></linearGradient>
<linearGradient id="hgS11" gradientUnits="userSpaceOnUse" x1="1760" y1="352" x2="1950" y2="413"><stop offset="0.0000" stop-color="#0040ff" stop-opacity="0.00"/><stop offset="0.2241" stop-color="#0040ff" stop-opacity="0.62"/><stop offset="0.4872" stop-color="#0040ff" stop-opacity="1.00"/><stop offset="0.7330" stop-color="#0040ff" stop-opacity="0.62"/><stop offset="1.0000" stop-color="#0040ff" stop-opacity="0.00"/></linearGradient>
<linearGradient id="hgS12" gradientUnits="userSpaceOnUse" x1="1760" y1="352" x2="1950" y2="413"><stop offset="0.0000" stop-color="#00b4ff" stop-opacity="0.00"/><stop offset="0.2241" stop-color="#00b4ff" stop-opacity="0.00"/><stop offset="0.4872" stop-color="#00b4ff" stop-opacity="0.29"/><stop offset="0.7330" stop-color="#00b4ff" stop-opacity="0.00"/><stop offset="1.0000" stop-color="#00b4ff" stop-opacity="0.00"/></linearGradient>
<linearGradient id="hgS30" gradientUnits="userSpaceOnUse" x1="1770" y1="402" x2="1960" y2="452"><stop offset="0.0000" stop-color="#0006e8" stop-opacity="0.00"/><stop offset="0.1623" stop-color="#0006e8" stop-opacity="1.00"/><stop offset="0.4165" stop-color="#0006e8" stop-opacity="1.00"/><stop offset="0.6667" stop-color="#0006e8" stop-opacity="1.00"/><stop offset="0.8299" stop-color="#0006e8" stop-opacity="0.86"/><stop offset="1.0000" stop-color="#0006e8" stop-opacity="0.00"/></linearGradient>
<linearGradient id="hgS31" gradientUnits="userSpaceOnUse" x1="1770" y1="402" x2="1960" y2="452"><stop offset="0.0000" stop-color="#0040ff" stop-opacity="0.00"/><stop offset="0.1623" stop-color="#0040ff" stop-opacity="0.50"/><stop offset="0.4165" stop-color="#0040ff" stop-opacity="1.00"/><stop offset="0.6667" stop-color="#0040ff" stop-opacity="0.62"/><stop offset="0.8299" stop-color="#0040ff" stop-opacity="0.00"/><stop offset="1.0000" stop-color="#0040ff" stop-opacity="0.00"/></linearGradient>
<linearGradient id="hgS32" gradientUnits="userSpaceOnUse" x1="1770" y1="402" x2="1960" y2="452"><stop offset="0.0000" stop-color="#00b4ff" stop-opacity="0.00"/><stop offset="0.1623" stop-color="#00b4ff" stop-opacity="0.00"/><stop offset="0.4165" stop-color="#00b4ff" stop-opacity="0.14"/><stop offset="0.6667" stop-color="#00b4ff" stop-opacity="0.00"/><stop offset="0.8299" stop-color="#00b4ff" stop-opacity="0.00"/><stop offset="1.0000" stop-color="#00b4ff" stop-opacity="0.00"/></linearGradient>
<linearGradient id="hgE10" gradientUnits="userSpaceOnUse" x1="1824" y1="185" x2="1980" y2="410"><stop offset="0.0000" stop-color="#0006e8" stop-opacity="1.00"/><stop offset="0.1517" stop-color="#0006e8" stop-opacity="1.00"/><stop offset="0.3491" stop-color="#0006e8" stop-opacity="1.00"/><stop offset="0.4843" stop-color="#0006e8" stop-opacity="1.00"/><stop offset="0.6037" stop-color="#0006e8" stop-opacity="1.00"/><stop offset="0.7389" stop-color="#0006e8" stop-opacity="1.00"/><stop offset="0.8807" stop-color="#0006e8" stop-opacity="0.71"/><stop offset="1.0000" stop-color="#0006e8" stop-opacity="0.00"/></linearGradient>
<linearGradient id="hgE11" gradientUnits="userSpaceOnUse" x1="1824" y1="185" x2="1980" y2="410"><stop offset="0.0000" stop-color="#0040ff" stop-opacity="0.38"/><stop offset="0.1517" stop-color="#0040ff" stop-opacity="0.38"/><stop offset="0.3491" stop-color="#0040ff" stop-opacity="0.38"/><stop offset="0.4843" stop-color="#0040ff" stop-opacity="0.38"/><stop offset="0.6037" stop-color="#0040ff" stop-opacity="0.25"/><stop offset="0.7389" stop-color="#0040ff" stop-opacity="0.06"/><stop offset="0.8807" stop-color="#0040ff" stop-opacity="0.00"/><stop offset="1.0000" stop-color="#0040ff" stop-opacity="0.00"/></linearGradient>
<linearGradient id="hgE30" gradientUnits="userSpaceOnUse" x1="1862" y1="185" x2="1985" y2="385"><stop offset="0.0000" stop-color="#0006e8" stop-opacity="0.71"/><stop offset="0.2218" stop-color="#0006e8" stop-opacity="0.71"/><stop offset="0.4434" stop-color="#0006e8" stop-opacity="0.71"/><stop offset="0.6624" stop-color="#0006e8" stop-opacity="0.57"/><stop offset="0.8382" stop-color="#0006e8" stop-opacity="0.43"/><stop offset="1.0000" stop-color="#0006e8" stop-opacity="0.00"/></linearGradient>
<linearGradient id="hgE20" gradientUnits="userSpaceOnUse" x1="1908" y1="185" x2="2000" y2="335"><stop offset="0.0000" stop-color="#0006e8" stop-opacity="0.71"/><stop offset="0.1632" stop-color="#0006e8" stop-opacity="0.71"/><stop offset="0.3001" stop-color="#0006e8" stop-opacity="0.71"/><stop offset="0.4707" stop-color="#0006e8" stop-opacity="0.64"/><stop offset="0.6092" stop-color="#0006e8" stop-opacity="0.50"/><stop offset="0.8288" stop-color="#0006e8" stop-opacity="0.29"/><stop offset="1.0000" stop-color="#0006e8" stop-opacity="0.00"/></linearGradient>
<linearGradient id="hgS40" gradientUnits="userSpaceOnUse" x1="1850" y1="452" x2="2037" y2="467"><stop offset="0.0000" stop-color="#0006e8" stop-opacity="0.00"/><stop offset="0.2415" stop-color="#0006e8" stop-opacity="1.00"/><stop offset="0.5887" stop-color="#0006e8" stop-opacity="1.00"/><stop offset="1.0000" stop-color="#0006e8" stop-opacity="0.00"/></linearGradient>
<linearGradient id="hgS41" gradientUnits="userSpaceOnUse" x1="1850" y1="452" x2="2037" y2="467"><stop offset="0.0000" stop-color="#0040ff" stop-opacity="0.00"/><stop offset="0.2415" stop-color="#0040ff" stop-opacity="0.19"/><stop offset="0.5887" stop-color="#0040ff" stop-opacity="0.06"/><stop offset="1.0000" stop-color="#0040ff" stop-opacity="0.00"/></linearGradient>
</defs>
<rect width="2146" height="1075" fill="#fff"/>
<g id="schematic">
<path d="M306.5 254.6 H678.6 V530 H99.2 V298" fill="none" stroke="#000" stroke-width="2.2" stroke-linejoin="miter"/>
<path d="M99.2 420.4 H678.6" fill="none" stroke="#000" stroke-width="2.2"/>
<rect x="401.6" y="398.6" width="22.4" height="21.6" fill="#fe0000"/>
<rect x="449.5" y="398.6" width="22.4" height="21.6" fill="#fe0000"/>
<rect x="497.3" y="398.6" width="22.4" height="21.6" fill="#fe0000"/>
<rect x="545.2" y="398.6" width="22.4" height="21.6" fill="#fe0000"/>
<rect x="593.0" y="398.6" width="22.4" height="21.6" fill="#fe0000"/>
<rect x="640.9" y="398.6" width="22.4" height="21.6" fill="#fe0000"/>
<path d="M306.4 264.6 L378.8 333.2" stroke="#111" stroke-width="2.1" fill="none"/>
<ellipse cx="384.8" cy="339.4" rx="10.6" ry="11.9" fill="#f60000" transform="rotate(28 384.8 339.4)"/>
<path d="M371.8 353.6 A18.96 18.96 0 0 0 400.7 348.1" stroke="#111" stroke-width="2.2" fill="none" stroke-linecap="round"/>
<path d="M366.4 364.9 A29.56 29.56 0 0 0 407.8 352.7" stroke="#111" stroke-width="2.2" fill="none" stroke-linecap="round"/>
<path d="M360.9 375.7 A38.04 38.04 0 0 0 418.7 361.9" stroke="#111" stroke-width="2.2" fill="none" stroke-linecap="round"/>
<g fill="none" stroke="#4f4f4f" stroke-width="1.8" stroke-linejoin="round" stroke-linecap="round">
<path d="M18.5 222.5 Q70 231 120 234.5 T231.5 239.7 Q270 240 285 238.8 L304.4 238.6 Q307.5 246 306.6 257.4 Q305 266 292 267.4 H268.4 L258.3 285 H50.3 Q38 284 31 268 Q24 250 18.5 222.5 Z" fill="#fff"/>
<path d="M18.2 257.4 H306.8"/>
<path d="M18.2 240.6 V270.8" stroke="#8a8a8a" stroke-width="1.2"/>
<path d="M273.4 267.4 L279.3 284.2 H289.4 L290.2 267.4"/>
<path d="M75.5 230.5 L88 216.8 H182 L194.6 194.5 H231.5 V239.7"/>
<path d="M187.9 217.1 L198.8 197.8 H227.3 V217.1 Z"/>
<path d="M120.8 232.2 L128.3 221.3 H173.6 V236.4 Z"/>
<circle cx="104.8" cy="225.2" r="4.8"/>
<path d="M224.2 194.5 V173.5"/>
<path d="M219.6 171.6 H229 L224.3 175.4 Z" fill="#4d4d4d"/>
</g>
<text x="350.0" y="146.0" font-size="40.5" fill="#000" textLength="256.2" lengthAdjust="spacingAndGlyphs">Data collection</text>
<text x="545.0" y="293.0" font-size="40.5" fill="#000" textLength="102.8" lengthAdjust="spacingAndGlyphs">Water</text>
<text x="411.6" y="352.2" font-size="40.5" fill="#000" textLength="131.4" lengthAdjust="spacingAndGlyphs">Air gun</text>
<text x="527.5" y="498.5" font-size="40.5" fill="#000" textLength="125.5" lengthAdjust="spacingAndGlyphs">Bottom</text>
</g>
<g id="arrows" fill="#000" stroke="none">
<path d="M450.4 255 V161.3 H740 V173.3 H461 V255 Z"/>
<path d="M774.5 167.3 L732 146 L739.5 167.3 L732 188.6 Z"/>
<path d="M1439 89 H1787 V132 H1775.5 V100.2 H1439 Z"/>
<path d="M1781 165.5 L1759.4 123.5 L1781 131 L1802.2 123.5 Z"/>
<path d="M1974.6 609.5 H1985.8 V829.2 H1905 V818 H1974.6 Z"/>
<path d="M1869.5 823.6 L1912.5 802.5 L1905 823.6 L1912.5 844.8 Z"/>
<path d="M1205.5 769.4 V780.8 H910 V769.4 Z"/>
<path d="M876.5 775.2 L919 754 L911.5 775.2 L919 796.4 Z"/>
</g>
<text x="1555.2" y="68.6" font-size="41" fill="#000" textLength="274.3" lengthAdjust="spacingAndGlyphs">Data processing</text>
<text x="910.5" y="707.3" font-size="40.5" fill="#000" textLength="260.0" lengthAdjust="spacingAndGlyphs">Matching Field</text>
<text x="959.5" y="754.4" font-size="40.5" fill="#000" textLength="162.0" lengthAdjust="spacingAndGlyphs">inversion</text>
<text x="1908.6" y="906.0" font-size="40.5" fill="#000" textLength="185.4" lengthAdjust="spacingAndGlyphs">Dispersion</text>
<text x="1891.0" y="953.0" font-size="40.5" fill="#000" textLength="222.4" lengthAdjust="spacingAndGlyphs">curve extract</text>
<g id="rawdata">
<rect x="862.6" y="65.6" width="511.6" height="311.4" fill="#fbf6fb"/>
<g clip-path="url(#rclip)">
<g opacity=".3"><path d="M1316 66 V377" stroke="#d8d2f4" stroke-width="2"/><path d="M1330 66 V377" stroke="#f1d9e4" stroke-width="3"/><path d="M1343 66 V377" stroke="#dcd8f6" stroke-width="2.5"/><path d="M1128 66 V377" stroke="#efe2f2" stroke-width="2"/><path d="M978 150 V377" stroke="#eadff2" stroke-width="3"/></g>
<g opacity=".34" filter="url(#rb6)"><path d="M862.7 83.0 L900.0 113.0 L940.0 134.0 L976.0 148.0 L1040.0 174.0 L1103.0 199.5 L1170.0 226.5 L1230.0 252.0 L1300.0 277.5 L1374.5 303.0 L1374.5 333.0 L1300.0 307.5 L1230.0 282.0 L1170.0 256.5 L1103.0 229.5 L1040.0 204.0 L976.0 178.0 L940.0 164.0 L900.0 143.0 L862.7 113.0 Z" fill="#b784cc"/></g>
<g opacity=".34"><g transform="rotate(22.0 1100 190)"><g filter="url(#hzP)"><g transform="rotate(-22.0 1100 190)"><path d="M862.7 83.0 L900.0 113.0 L940.0 134.0 L976.0 148.0 L1040.0 174.0 L1103.0 199.5 L1170.0 226.5 L1230.0 252.0 L1300.0 277.5 L1374.5 303.0 L1374.5 361.0 L1300.0 335.5 L1230.0 310.0 L1170.0 284.5 L1103.0 257.5 L1040.0 232.0 L976.0 206.0 L940.0 192.0 L900.0 171.0 L862.7 141.0 Z" fill="url(#hz1)"/><path d="M863 82 L900 112 L976 147 L1050 178 L1030 222 L960 214 L900 192 L863 160 Z" fill="url(#hz2)"/></g></g></g></g>
<g opacity=".28"><g transform="rotate(22.0 1100 190)"><g filter="url(#hzB)"><g transform="rotate(-22.0 1100 190)"><path d="M862.7 83.0 L900.0 113.0 L940.0 134.0 L976.0 148.0 L1040.0 174.0 L1103.0 199.5 L1170.0 226.5 L1230.0 252.0 L1300.0 277.5 L1374.5 303.0 L1374.5 361.0 L1300.0 335.5 L1230.0 310.0 L1170.0 284.5 L1103.0 257.5 L1040.0 232.0 L976.0 206.0 L940.0 192.0 L900.0 171.0 L862.7 141.0 Z" fill="url(#hz1)"/><path d="M863 82 L900 112 L976 147 L1050 178 L1030 222 L960 214 L900 192 L863 160 Z" fill="url(#hz2)"/></g></g></g></g>
<g opacity=".3"><g transform="rotate(22.0 1100 190)"><g filter="url(#hzR)"><g transform="rotate(-22.0 1100 190)"><path d="M862.7 83.0 L900.0 113.0 L940.0 134.0 L976.0 148.0 L1040.0 174.0 L1103.0 199.5 L1170.0 226.5 L1230.0 252.0 L1300.0 277.5 L1374.5 303.0 L1374.5 361.0 L1300.0 335.5 L1230.0 310.0 L1170.0 284.5 L1103.0 257.5 L1040.0 232.0 L976.0 206.0 L940.0 192.0 L900.0 171.0 L862.7 141.0 Z" fill="url(#hz1)"/><path d="M863 82 L900 112 L976 147 L1050 178 L1030 222 L960 214 L900 192 L863 160 Z" fill="url(#hz2)"/></g></g></g></g>
<path d="M939 286.6 Q1020 270 1098 267.3 T1226 280" fill="none" stroke="#b98ad0" stroke-width="2" opacity=".15" filter="url(#rb1)"/>
<g fill="none" stroke="#8a3cb0" opacity=".42" filter="url(#rb1)"><path d="M870.6 76.8 L878.6 79.1 L886.6 81.4 L894.6 83.8 L902.6 86.0 L910.6 87.9 L918.6 89.9 L926.6 91.9 L934.6 93.8 L942.6 95.7 L950.6 97.3 L958.6 99.0 L966.6 100.6 L974.6 102.2 L982.6 103.5 L990.6 104.7 L998.6 105.9 L1006.6 107.1 L1014.6 108.4 L1022.6 109.6 L1030.6 110.8 L1038.6 112.0 L1046.6 113.2 L1054.6 114.4 L1062.6 115.6 L1070.6 116.8 L1078.6 118.0 L1086.6 119.2 L1094.6 120.4 L1102.6 121.7 L1110.6 122.9 L1118.6 124.1 L1126.6 125.3 L1134.6 126.5 L1142.6 127.7 L1150.6 128.9 L1158.6 130.1 L1166.6 131.3 L1174.6 132.4 L1182.6 133.6 L1190.6 134.7 L1198.6 135.8 L1206.6 136.9 L1214.6 138.0 L1222.6 139.2 L1230.6 140.3 L1238.6 141.4 L1246.6 142.5 L1254.6 143.7 L1262.6 144.9 L1270.6 146.1 L1278.6 147.3 L1286.6 148.5 L1294.6 149.7 L1302.6 150.9 L1310.6 152.1 L1318.6 153.1 L1326.6 154.2 L1334.6 155.2 L1342.6 156.3 L1350.6 157.4 L1358.6 158.4 L1366.6 159.5 L1374.6 160.5" stroke-width="2.8" opacity="1.00"/><path d="M870.6 77.8 L878.6 80.3 L886.6 82.7 L894.6 85.2 L902.6 87.5 L910.6 89.6 L918.6 91.7 L926.6 93.8 L934.6 95.9 L942.6 97.9 L950.6 99.7 L958.6 101.5 L966.6 103.2 L974.6 105.0 L982.6 106.4 L990.6 107.8 L998.6 109.1 L1006.6 110.5 L1014.6 111.8 L1022.6 113.2 L1030.6 114.5 L1038.6 115.9 L1046.6 117.2 L1054.6 118.5 L1062.6 119.9 L1070.6 121.2 L1078.6 122.6 L1086.6 123.9 L1094.6 125.3 L1102.6 126.6 L1110.6 128.0 L1118.6 129.3 L1126.6 130.7 L1134.6 132.0 L1142.6 133.3 L1150.6 134.7 L1158.6 136.0 L1166.6 137.4 L1174.6 138.6 L1182.6 139.9 L1190.6 141.2 L1198.6 142.4 L1206.6 143.7 L1214.6 144.9 L1222.6 146.2 L1230.6 147.4 L1238.6 148.7 L1246.6 150.0 L1254.6 151.3 L1262.6 152.6 L1270.6 153.9 L1278.6 155.3 L1286.6 156.6 L1294.6 157.9 L1302.6 159.3 L1310.6 160.6 L1318.6 161.8 L1326.6 163.0 L1334.6 164.2 L1342.6 165.4 L1350.6 166.6 L1358.6 167.7 L1366.6 168.9 L1374.6 170.1" stroke-width="2.8" opacity="0.75"/><path d="M886.6 85.6 L894.6 88.2 L902.6 90.7 L910.6 92.9 L918.6 95.2 L926.6 97.4 L934.6 99.6 L942.6 101.8 L950.6 103.7 L958.6 105.6 L966.6 107.5 L974.6 109.4 L982.6 110.9 L990.6 112.4 L998.6 113.9 L1006.6 115.4 L1014.6 116.9 L1022.6 118.4 L1030.6 119.8 L1038.6 121.3 L1046.6 122.8 L1054.6 124.3 L1062.6 125.8 L1070.6 127.3 L1078.6 128.7 L1086.6 130.2 L1094.6 131.7 L1102.6 133.2 L1110.6 134.7 L1118.6 136.2 L1126.6 137.6 L1134.6 139.1 L1142.6 140.6 L1150.6 142.1 L1158.6 143.5 L1166.6 145.0 L1174.6 146.4 L1182.6 147.8 L1190.6 149.2 L1198.6 150.6 L1206.6 152.0 L1214.6 153.4 L1222.6 154.8 L1230.6 156.2 L1238.6 157.6 L1246.6 159.0 L1254.6 160.4 L1262.6 161.9 L1270.6 163.4 L1278.6 164.8 L1286.6 166.3 L1294.6 167.8 L1302.6 169.3 L1310.6 170.7 L1318.6 172.1 L1326.6 173.4 L1334.6 174.7 L1342.6 176.0 L1350.6 177.4 L1358.6 178.7 L1366.6 180.0 L1374.6 181.4" stroke-width="2.8" opacity="0.70"/><path d="M894.6 91.2 L902.6 93.8 L910.6 96.2 L918.6 98.6 L926.6 100.9 L934.6 103.3 L942.6 105.6 L950.6 107.6 L958.6 109.7 L966.6 111.7 L974.6 113.8 L982.6 115.5 L990.6 117.1 L998.6 118.7 L1006.6 120.3 L1014.6 121.9 L1022.6 123.6 L1030.6 125.2 L1038.6 126.8 L1046.6 128.4 L1054.6 130.0 L1062.6 131.7 L1070.6 133.3 L1078.6 134.9 L1086.6 136.5 L1094.6 138.1 L1102.6 139.8 L1110.6 141.4 L1118.6 143.0 L1126.6 144.6 L1134.6 146.2 L1142.6 147.8 L1150.6 149.5 L1158.6 151.1 L1166.6 152.7 L1174.6 154.2 L1182.6 155.8 L1190.6 157.3 L1198.6 158.8 L1206.6 160.4 L1214.6 161.9 L1222.6 163.4 L1230.6 165.0 L1238.6 166.5 L1246.6 168.0 L1254.6 169.6 L1262.6 171.2 L1270.6 172.8 L1278.6 174.4 L1286.6 176.0 L1294.6 177.6 L1302.6 179.3 L1310.6 180.9 L1318.6 182.3 L1326.6 183.8 L1334.6 185.2 L1342.6 186.7 L1350.6 188.2 L1358.6 189.6 L1366.6 191.1 L1374.6 192.6" stroke-width="2.8" opacity="0.66"/><path d="M910.6 99.5 L918.6 102.0 L926.6 104.5 L934.6 107.0 L942.6 109.4 L950.6 111.6 L958.6 113.8 L966.6 116.0 L974.6 118.1 L982.6 120.0 L990.6 121.7 L998.6 123.5 L1006.6 125.2 L1014.6 127.0 L1022.6 128.8 L1030.6 130.5 L1038.6 132.3 L1046.6 134.0 L1054.6 135.8 L1062.6 137.5 L1070.6 139.3 L1078.6 141.0 L1086.6 142.8 L1094.6 144.6 L1102.6 146.3 L1110.6 148.1 L1118.6 149.9 L1126.6 151.6 L1134.6 153.3 L1142.6 155.1 L1150.6 156.8 L1158.6 158.6 L1166.6 160.3 L1174.6 162.0 L1182.6 163.7 L1190.6 165.4 L1198.6 167.0 L1206.6 168.7 L1214.6 170.4 L1222.6 172.0 L1230.6 173.7 L1238.6 175.4 L1246.6 177.0 L1254.6 178.8 L1262.6 180.5 L1270.6 182.3 L1278.6 184.0 L1286.6 185.7 L1294.6 187.5 L1302.6 189.2 L1310.6 191.0 L1318.6 192.6 L1326.6 194.2 L1334.6 195.8 L1342.6 197.4 L1350.6 199.0 L1358.6 200.6 L1366.6 202.2 L1374.6 203.8" stroke-width="2.8" opacity="0.61"/><path d="M942.6 113.3 L950.6 115.6 L958.6 117.9 L966.6 120.2 L974.6 122.5 L982.6 124.5 L990.6 126.4 L998.6 128.3 L1006.6 130.2 L1014.6 132.1 L1022.6 134.0 L1030.6 135.9 L1038.6 137.7 L1046.6 139.6 L1054.6 141.5 L1062.6 143.4 L1070.6 145.3 L1078.6 147.2 L1086.6 149.1 L1094.6 151.0 L1102.6 152.9 L1110.6 154.8 L1118.6 156.7 L1126.6 158.6 L1134.6 160.5 L1142.6 162.3 L1150.6 164.2 L1158.6 166.1 L1166.6 168.0 L1174.6 169.8 L1182.6 171.6 L1190.6 173.4 L1198.6 175.3 L1206.6 177.1 L1214.6 178.9 L1222.6 180.7 L1230.6 182.5 L1238.6 184.3 L1246.6 186.1 L1254.6 187.9 L1262.6 189.8 L1270.6 191.7 L1278.6 193.6 L1286.6 195.5 L1294.6 197.3 L1302.6 199.2 L1310.6 201.1 L1318.6 202.8 L1326.6 204.6 L1334.6 206.3 L1342.6 208.1 L1350.6 209.8 L1358.6 211.5 L1366.6 213.3 L1374.6 215.0" stroke-width="2.8" opacity="0.56"/><path d="M974.6 126.9 L982.6 129.0 L990.6 131.0 L998.6 133.1 L1006.6 135.1 L1014.6 137.1 L1022.6 139.2 L1030.6 141.2 L1038.6 143.2 L1046.6 145.3 L1054.6 147.3 L1062.6 149.3 L1070.6 151.3 L1078.6 153.4 L1086.6 155.4 L1094.6 157.4 L1102.6 159.5 L1110.6 161.5 L1118.6 163.5 L1126.6 165.6 L1134.6 167.6 L1142.6 169.6 L1150.6 171.6 L1158.6 173.6 L1166.6 175.7 L1174.6 177.6 L1182.6 179.6 L1190.6 181.5 L1198.6 183.5 L1206.6 185.4 L1214.6 187.3 L1222.6 189.3 L1230.6 191.2 L1238.6 193.2 L1246.6 195.1 L1254.6 197.1 L1262.6 199.1 L1270.6 201.1 L1278.6 203.2 L1286.6 205.2 L1294.6 207.2 L1302.6 209.2 L1310.6 211.2 L1318.6 213.1 L1326.6 215.0 L1334.6 216.9 L1342.6 218.7 L1350.6 220.6 L1358.6 222.5 L1366.6 224.4 L1374.6 226.2" stroke-width="2.8" opacity="0.51"/><path d="M998.6 137.9 L1006.6 140.0 L1014.6 142.2 L1022.6 144.4 L1030.6 146.5 L1038.6 148.7 L1046.6 150.9 L1054.6 153.0 L1062.6 155.2 L1070.6 157.4 L1078.6 159.5 L1086.6 161.7 L1094.6 163.8 L1102.6 166.0 L1110.6 168.2 L1118.6 170.4 L1126.6 172.5 L1134.6 174.7 L1142.6 176.9 L1150.6 179.0 L1158.6 181.2 L1166.6 183.3 L1174.6 185.4 L1182.6 187.5 L1190.6 189.6 L1198.6 191.7 L1206.6 193.7 L1214.6 195.8 L1222.6 197.9 L1230.6 200.0 L1238.6 202.1 L1246.6 204.1 L1254.6 206.3 L1262.6 208.4 L1270.6 210.6 L1278.6 212.7 L1286.6 214.9 L1294.6 217.0 L1302.6 219.2 L1310.6 221.3 L1318.6 223.4 L1326.6 225.4 L1334.6 227.4 L1342.6 229.4 L1350.6 231.4 L1358.6 233.4 L1366.6 235.4 L1374.6 237.4" stroke-width="2.8" opacity="0.26"/><path d="M1030.6 151.9 L1038.6 154.2 L1046.6 156.5 L1054.6 158.8 L1062.6 161.1 L1070.6 163.4 L1078.6 165.7 L1086.6 168.0 L1094.6 170.3 L1102.6 172.6 L1110.6 174.9 L1118.6 177.2 L1126.6 179.5 L1134.6 181.8 L1142.6 184.1 L1150.6 186.4 L1158.6 188.7 L1166.6 191.0 L1174.6 193.2 L1182.6 195.4 L1190.6 197.7 L1198.6 199.9 L1206.6 202.1 L1214.6 204.3 L1222.6 206.5 L1230.6 208.7 L1238.6 210.9 L1246.6 213.2 L1254.6 215.4 L1262.6 217.7 L1270.6 220.0 L1278.6 222.3 L1286.6 224.6 L1294.6 226.9 L1302.6 229.2 L1310.6 231.5 L1318.6 233.6 L1326.6 235.8 L1334.6 237.9 L1342.6 240.1 L1350.6 242.2 L1358.6 244.4 L1366.6 246.5 L1374.6 248.7" stroke-width="2.8" opacity="0.23"/><path d="M870.6 78.1 L878.6 80.5 L886.6 82.9 L894.6 85.2 L902.6 87.5 L910.6 89.6 L918.6 91.6 L926.6 93.6 L934.6 95.7 L942.6 97.6 L950.6 99.3 L958.6 101.0 L966.6 102.7 L974.6 104.4 L982.6 105.7 L990.6 107.0 L998.6 108.3 L1006.6 109.6 L1014.6 110.8 L1022.6 112.1 L1030.6 113.4 L1038.6 114.7 L1046.6 116.0 L1054.6 117.2 L1062.6 118.5 L1070.6 119.8 L1078.6 121.0 L1086.6 122.3 L1094.6 123.6 L1102.6 124.9 L1110.6 126.1 L1118.6 127.3 L1126.6 128.5 L1134.6 129.7 L1142.6 130.9 L1150.6 132.1 L1158.6 133.3 L1166.6 134.5 L1174.6 135.6 L1182.6 136.8 L1190.6 137.9 L1198.6 139.0 L1206.6 140.1 L1214.6 141.2 L1222.6 142.4 L1230.6 143.5 L1238.6 144.6 L1246.6 145.7 L1254.6 146.9 L1262.6 148.1 L1270.6 149.3 L1278.6 150.5 L1286.6 151.7 L1294.6 152.9 L1302.6 154.1 L1310.6 155.3 L1318.6 156.3 L1326.6 157.4 L1334.6 158.4 L1342.6 159.5 L1350.6 160.6 L1358.6 161.6 L1366.6 162.7 L1374.6 163.7" stroke-width="3.0" opacity="1.00"/><path d="M878.6 81.6 L886.6 84.1 L894.6 86.7 L902.6 89.1 L910.6 91.2 L918.6 93.4 L926.6 95.6 L934.6 97.8 L942.6 99.8 L950.6 101.7 L958.6 103.5 L966.6 105.3 L974.6 107.2 L982.6 108.7 L990.6 110.1 L998.6 111.5 L1006.6 112.9 L1014.6 114.3 L1022.6 115.7 L1030.6 117.1 L1038.6 118.5 L1046.6 120.0 L1054.6 121.4 L1062.6 122.8 L1070.6 124.2 L1078.6 125.6 L1086.6 127.0 L1094.6 128.4 L1102.6 129.8 L1110.6 131.2 L1118.6 132.5 L1126.6 133.9 L1134.6 135.2 L1142.6 136.5 L1150.6 137.9 L1158.6 139.2 L1166.6 140.6 L1174.6 141.8 L1182.6 143.1 L1190.6 144.4 L1198.6 145.6 L1206.6 146.9 L1214.6 148.1 L1222.6 149.4 L1230.6 150.6 L1238.6 151.9 L1246.6 153.2 L1254.6 154.5 L1262.6 155.8 L1270.6 157.1 L1278.6 158.5 L1286.6 159.8 L1294.6 161.1 L1302.6 162.5 L1310.6 163.8 L1318.6 165.0 L1326.6 166.2 L1334.6 167.4 L1342.6 168.6 L1350.6 169.8 L1358.6 170.9 L1366.6 172.1 L1374.6 173.3" stroke-width="3.0" opacity="0.75"/><path d="M886.6 87.0 L894.6 89.7 L902.6 92.2 L910.6 94.5 L918.6 96.8 L926.6 99.1 L934.6 101.4 L942.6 103.6 L950.6 105.6 L958.6 107.6 L966.6 109.6 L974.6 111.5 L982.6 113.2 L990.6 114.7 L998.6 116.3 L1006.6 117.8 L1014.6 119.4 L1022.6 120.9 L1030.6 122.5 L1038.6 124.0 L1046.6 125.6 L1054.6 127.1 L1062.6 128.7 L1070.6 130.2 L1078.6 131.8 L1086.6 133.3 L1094.6 134.9 L1102.6 136.4 L1110.6 137.9 L1118.6 139.4 L1126.6 140.8 L1134.6 142.3 L1142.6 143.8 L1150.6 145.3 L1158.6 146.7 L1166.6 148.2 L1174.6 149.6 L1182.6 151.0 L1190.6 152.4 L1198.6 153.8 L1206.6 155.2 L1214.6 156.6 L1222.6 158.0 L1230.6 159.4 L1238.6 160.8 L1246.6 162.2 L1254.6 163.6 L1262.6 165.1 L1270.6 166.6 L1278.6 168.0 L1286.6 169.5 L1294.6 171.0 L1302.6 172.5 L1310.6 173.9 L1318.6 175.3 L1326.6 176.6 L1334.6 177.9 L1342.6 179.2 L1350.6 180.6 L1358.6 181.9 L1366.6 183.2 L1374.6 184.6" stroke-width="3.0" opacity="0.70"/><path d="M902.6 95.4 L910.6 97.8 L918.6 100.3 L926.6 102.7 L934.6 105.1 L942.6 107.5 L950.6 109.6 L958.6 111.7 L966.6 113.8 L974.6 115.9 L982.6 117.7 L990.6 119.4 L998.6 121.1 L1006.6 122.7 L1014.6 124.4 L1022.6 126.1 L1030.6 127.8 L1038.6 129.5 L1046.6 131.2 L1054.6 132.9 L1062.6 134.6 L1070.6 136.2 L1078.6 137.9 L1086.6 139.6 L1094.6 141.3 L1102.6 143.0 L1110.6 144.6 L1118.6 146.2 L1126.6 147.8 L1134.6 149.4 L1142.6 151.0 L1150.6 152.7 L1158.6 154.3 L1166.6 155.9 L1174.6 157.4 L1182.6 159.0 L1190.6 160.5 L1198.6 162.0 L1206.6 163.6 L1214.6 165.1 L1222.6 166.6 L1230.6 168.2 L1238.6 169.7 L1246.6 171.2 L1254.6 172.8 L1262.6 174.4 L1270.6 176.0 L1278.6 177.6 L1286.6 179.2 L1294.6 180.8 L1302.6 182.5 L1310.6 184.1 L1318.6 185.5 L1326.6 187.0 L1334.6 188.4 L1342.6 189.9 L1350.6 191.4 L1358.6 192.8 L1366.6 194.3 L1374.6 195.8" stroke-width="3.0" opacity="0.66"/><path d="M926.6 106.3 L934.6 108.8 L942.6 111.3 L950.6 113.6 L958.6 115.8 L966.6 118.1 L974.6 120.3 L982.6 122.2 L990.6 124.0 L998.6 125.8 L1006.6 127.7 L1014.6 129.5 L1022.6 131.3 L1030.6 133.1 L1038.6 135.0 L1046.6 136.8 L1054.6 138.6 L1062.6 140.4 L1070.6 142.3 L1078.6 144.1 L1086.6 145.9 L1094.6 147.7 L1102.6 149.5 L1110.6 151.3 L1118.6 153.1 L1126.6 154.8 L1134.6 156.5 L1142.6 158.3 L1150.6 160.0 L1158.6 161.8 L1166.6 163.5 L1174.6 165.2 L1182.6 166.9 L1190.6 168.6 L1198.6 170.2 L1206.6 171.9 L1214.6 173.6 L1222.6 175.2 L1230.6 176.9 L1238.6 178.6 L1246.6 180.2 L1254.6 182.0 L1262.6 183.7 L1270.6 185.5 L1278.6 187.2 L1286.6 188.9 L1294.6 190.7 L1302.6 192.4 L1310.6 194.2 L1318.6 195.8 L1326.6 197.4 L1334.6 199.0 L1342.6 200.6 L1350.6 202.2 L1358.6 203.8 L1366.6 205.4 L1374.6 207.0" stroke-width="3.0" opacity="0.61"/><path d="M958.6 119.9 L966.6 122.3 L974.6 124.7 L982.6 126.7 L990.6 128.7 L998.6 130.6 L1006.6 132.6 L1014.6 134.6 L1022.6 136.5 L1030.6 138.5 L1038.6 140.4 L1046.6 142.4 L1054.6 144.4 L1062.6 146.3 L1070.6 148.3 L1078.6 150.2 L1086.6 152.2 L1094.6 154.2 L1102.6 156.1 L1110.6 158.0 L1118.6 159.9 L1126.6 161.8 L1134.6 163.7 L1142.6 165.5 L1150.6 167.4 L1158.6 169.3 L1166.6 171.2 L1174.6 173.0 L1182.6 174.8 L1190.6 176.6 L1198.6 178.5 L1206.6 180.3 L1214.6 182.1 L1222.6 183.9 L1230.6 185.7 L1238.6 187.5 L1246.6 189.3 L1254.6 191.1 L1262.6 193.0 L1270.6 194.9 L1278.6 196.8 L1286.6 198.7 L1294.6 200.5 L1302.6 202.4 L1310.6 204.3 L1318.6 206.0 L1326.6 207.8 L1334.6 209.5 L1342.6 211.3 L1350.6 213.0 L1358.6 214.7 L1366.6 216.5 L1374.6 218.2" stroke-width="3.0" opacity="0.56"/><path d="M990.6 133.3 L998.6 135.4 L1006.6 137.5 L1014.6 139.6 L1022.6 141.7 L1030.6 143.8 L1038.6 145.9 L1046.6 148.0 L1054.6 150.1 L1062.6 152.2 L1070.6 154.3 L1078.6 156.4 L1086.6 158.5 L1094.6 160.6 L1102.6 162.7 L1110.6 164.7 L1118.6 166.7 L1126.6 168.8 L1134.6 170.8 L1142.6 172.8 L1150.6 174.8 L1158.6 176.8 L1166.6 178.9 L1174.6 180.8 L1182.6 182.8 L1190.6 184.7 L1198.6 186.7 L1206.6 188.6 L1214.6 190.5 L1222.6 192.5 L1230.6 194.4 L1238.6 196.4 L1246.6 198.3 L1254.6 200.3 L1262.6 202.3 L1270.6 204.3 L1278.6 206.4 L1286.6 208.4 L1294.6 210.4 L1302.6 212.4 L1310.6 214.4 L1318.6 216.3 L1326.6 218.2 L1334.6 220.1 L1342.6 221.9 L1350.6 223.8 L1358.6 225.7 L1366.6 227.6 L1374.6 229.4" stroke-width="3.0" opacity="0.51"/><path d="M1014.6 144.7 L1022.6 146.9 L1030.6 149.2 L1038.6 151.4 L1046.6 153.6 L1054.6 155.9 L1062.6 158.1 L1070.6 160.3 L1078.6 162.5 L1086.6 164.8 L1094.6 167.0 L1102.6 169.2 L1110.6 171.4 L1118.6 173.6 L1126.6 175.7 L1134.6 177.9 L1142.6 180.1 L1150.6 182.2 L1158.6 184.4 L1166.6 186.5 L1174.6 188.6 L1182.6 190.7 L1190.6 192.8 L1198.6 194.9 L1206.6 196.9 L1214.6 199.0 L1222.6 201.1 L1230.6 203.2 L1238.6 205.3 L1246.6 207.3 L1254.6 209.5 L1262.6 211.6 L1270.6 213.8 L1278.6 215.9 L1286.6 218.1 L1294.6 220.2 L1302.6 222.4 L1310.6 224.5 L1318.6 226.6 L1326.6 228.6 L1334.6 230.6 L1342.6 232.6 L1350.6 234.6 L1358.6 236.6 L1366.6 238.6 L1374.6 240.6" stroke-width="3.0" opacity="0.26"/><path d="M1046.6 159.2 L1054.6 161.6 L1062.6 164.0 L1070.6 166.3 L1078.6 168.7 L1086.6 171.1 L1094.6 173.4 L1102.6 175.8 L1110.6 178.1 L1118.6 180.4 L1126.6 182.7 L1134.6 185.0 L1142.6 187.3 L1150.6 189.6 L1158.6 191.9 L1166.6 194.2 L1174.6 196.4 L1182.6 198.6 L1190.6 200.9 L1198.6 203.1 L1206.6 205.3 L1214.6 207.5 L1222.6 209.7 L1230.6 211.9 L1238.6 214.1 L1246.6 216.4 L1254.6 218.6 L1262.6 220.9 L1270.6 223.2 L1278.6 225.5 L1286.6 227.8 L1294.6 230.1 L1302.6 232.4 L1310.6 234.7 L1318.6 236.8 L1326.6 239.0 L1334.6 241.1 L1342.6 243.3 L1350.6 245.4 L1358.6 247.6 L1366.6 249.7 L1374.6 251.9" stroke-width="3.0" opacity="0.23"/></g>
<g fill="none" stroke="#000" opacity=".95"><g transform="rotate(9.0 1100 190)"><g filter="url(#fnR)"><g transform="rotate(-9.0 1100 190)"><path d="M870.6 78.1 L878.6 80.5 L886.6 82.9 L894.6 85.2 L902.6 87.5 L910.6 89.6 L918.6 91.6 L926.6 93.6 L934.6 95.7 L942.6 97.6 L950.6 99.3 L958.6 101.0 L966.6 102.7 L974.6 104.4 L982.6 105.7 L990.6 107.0 L998.6 108.3 L1006.6 109.6 L1014.6 110.8 L1022.6 112.1 L1030.6 113.4 L1038.6 114.7 L1046.6 116.0 L1054.6 117.2 L1062.6 118.5 L1070.6 119.8 L1078.6 121.0 L1086.6 122.3 L1094.6 123.6 L1102.6 124.9 L1110.6 126.1 L1118.6 127.3 L1126.6 128.5 L1134.6 129.7 L1142.6 130.9 L1150.6 132.1 L1158.6 133.3 L1166.6 134.5 L1174.6 135.6 L1182.6 136.8 L1190.6 137.9 L1198.6 139.0 L1206.6 140.1 L1214.6 141.2 L1222.6 142.4 L1230.6 143.5 L1238.6 144.6 L1246.6 145.7 L1254.6 146.9 L1262.6 148.1 L1270.6 149.3 L1278.6 150.5 L1286.6 151.7 L1294.6 152.9 L1302.6 154.1 L1310.6 155.3 L1318.6 156.3 L1326.6 157.4 L1334.6 158.4 L1342.6 159.5 L1350.6 160.6 L1358.6 161.6 L1366.6 162.7 L1374.6 163.7" stroke-width="3.0" opacity="1.00"/><path d="M878.6 81.6 L886.6 84.1 L894.6 86.7 L902.6 89.1 L910.6 91.2 L918.6 93.4 L926.6 95.6 L934.6 97.8 L942.6 99.8 L950.6 101.7 L958.6 103.5 L966.6 105.3 L974.6 107.2 L982.6 108.7 L990.6 110.1 L998.6 111.5 L1006.6 112.9 L1014.6 114.3 L1022.6 115.7 L1030.6 117.1 L1038.6 118.5 L1046.6 120.0 L1054.6 121.4 L1062.6 122.8 L1070.6 124.2 L1078.6 125.6 L1086.6 127.0 L1094.6 128.4 L1102.6 129.8 L1110.6 131.2 L1118.6 132.5 L1126.6 133.9 L1134.6 135.2 L1142.6 136.5 L1150.6 137.9 L1158.6 139.2 L1166.6 140.6 L1174.6 141.8 L1182.6 143.1 L1190.6 144.4 L1198.6 145.6 L1206.6 146.9 L1214.6 148.1 L1222.6 149.4 L1230.6 150.6 L1238.6 151.9 L1246.6 153.2 L1254.6 154.5 L1262.6 155.8 L1270.6 157.1 L1278.6 158.5 L1286.6 159.8 L1294.6 161.1 L1302.6 162.5 L1310.6 163.8 L1318.6 165.0 L1326.6 166.2 L1334.6 167.4 L1342.6 168.6 L1350.6 169.8 L1358.6 170.9 L1366.6 172.1 L1374.6 173.3" stroke-width="3.0" opacity="0.75"/><path d="M886.6 87.0 L894.6 89.7 L902.6 92.2 L910.6 94.5 L918.6 96.8 L926.6 99.1 L934.6 101.4 L942.6 103.6 L950.6 105.6 L958.6 107.6 L966.6 109.6 L974.6 111.5 L982.6 113.2 L990.6 114.7 L998.6 116.3 L1006.6 117.8 L1014.6 119.4 L1022.6 120.9 L1030.6 122.5 L1038.6 124.0 L1046.6 125.6 L1054.6 127.1 L1062.6 128.7 L1070.6 130.2 L1078.6 131.8 L1086.6 133.3 L1094.6 134.9 L1102.6 136.4 L1110.6 137.9 L1118.6 139.4 L1126.6 140.8 L1134.6 142.3 L1142.6 143.8 L1150.6 145.3 L1158.6 146.7 L1166.6 148.2 L1174.6 149.6 L1182.6 151.0 L1190.6 152.4 L1198.6 153.8 L1206.6 155.2 L1214.6 156.6 L1222.6 158.0 L1230.6 159.4 L1238.6 160.8 L1246.6 162.2 L1254.6 163.6 L1262.6 165.1 L1270.6 166.6 L1278.6 168.0 L1286.6 169.5 L1294.6 171.0 L1302.6 172.5 L1310.6 173.9 L1318.6 175.3 L1326.6 176.6 L1334.6 177.9 L1342.6 179.2 L1350.6 180.6 L1358.6 181.9 L1366.6 183.2 L1374.6 184.6" stroke-width="3.0" opacity="0.70"/><path d="M902.6 95.4 L910.6 97.8 L918.6 100.3 L926.6 102.7 L934.6 105.1 L942.6 107.5 L950.6 109.6 L958.6 111.7 L966.6 113.8 L974.6 115.9 L982.6 117.7 L990.6 119.4 L998.6 121.1 L1006.6 122.7 L1014.6 124.4 L1022.6 126.1 L1030.6 127.8 L1038.6 129.5 L1046.6 131.2 L1054.6 132.9 L1062.6 134.6 L1070.6 136.2 L1078.6 137.9 L1086.6 139.6 L1094.6 141.3 L1102.6 143.0 L1110.6 144.6 L1118.6 146.2 L1126.6 147.8 L1134.6 149.4 L1142.6 151.0 L1150.6 152.7 L1158.6 154.3 L1166.6 155.9 L1174.6 157.4 L1182.6 159.0 L1190.6 160.5 L1198.6 162.0 L1206.6 163.6 L1214.6 165.1 L1222.6 166.6 L1230.6 168.2 L1238.6 169.7 L1246.6 171.2 L1254.6 172.8 L1262.6 174.4 L1270.6 176.0 L1278.6 177.6 L1286.6 179.2 L1294.6 180.8 L1302.6 182.5 L1310.6 184.1 L1318.6 185.5 L1326.6 187.0 L1334.6 188.4 L1342.6 189.9 L1350.6 191.4 L1358.6 192.8 L1366.6 194.3 L1374.6 195.8" stroke-width="3.0" opacity="0.66"/><path d="M926.6 106.3 L934.6 108.8 L942.6 111.3 L950.6 113.6 L958.6 115.8 L966.6 118.1 L974.6 120.3 L982.6 122.2 L990.6 124.0 L998.6 125.8 L1006.6 127.7 L1014.6 129.5 L1022.6 131.3 L1030.6 133.1 L1038.6 135.0 L1046.6 136.8 L1054.6 138.6 L1062.6 140.4 L1070.6 142.3 L1078.6 144.1 L1086.6 145.9 L1094.6 147.7 L1102.6 149.5 L1110.6 151.3 L1118.6 153.1 L1126.6 154.8 L1134.6 156.5 L1142.6 158.3 L1150.6 160.0 L1158.6 161.8 L1166.6 163.5 L1174.6 165.2 L1182.6 166.9 L1190.6 168.6 L1198.6 170.2 L1206.6 171.9 L1214.6 173.6 L1222.6 175.2 L1230.6 176.9 L1238.6 178.6 L1246.6 180.2 L1254.6 182.0 L1262.6 183.7 L1270.6 185.5 L1278.6 187.2 L1286.6 188.9 L1294.6 190.7 L1302.6 192.4 L1310.6 194.2 L1318.6 195.8 L1326.6 197.4 L1334.6 199.0 L1342.6 200.6 L1350.6 202.2 L1358.6 203.8 L1366.6 205.4 L1374.6 207.0" stroke-width="3.0" opacity="0.61"/><path d="M958.6 119.9 L966.6 122.3 L974.6 124.7 L982.6 126.7 L990.6 128.7 L998.6 130.6 L1006.6 132.6 L1014.6 134.6 L1022.6 136.5 L1030.6 138.5 L1038.6 140.4 L1046.6 142.4 L1054.6 144.4 L1062.6 146.3 L1070.6 148.3 L1078.6 150.2 L1086.6 152.2 L1094.6 154.2 L1102.6 156.1 L1110.6 158.0 L1118.6 159.9 L1126.6 161.8 L1134.6 163.7 L1142.6 165.5 L1150.6 167.4 L1158.6 169.3 L1166.6 171.2 L1174.6 173.0 L1182.6 174.8 L1190.6 176.6 L1198.6 178.5 L1206.6 180.3 L1214.6 182.1 L1222.6 183.9 L1230.6 185.7 L1238.6 187.5 L1246.6 189.3 L1254.6 191.1 L1262.6 193.0 L1270.6 194.9 L1278.6 196.8 L1286.6 198.7 L1294.6 200.5 L1302.6 202.4 L1310.6 204.3 L1318.6 206.0 L1326.6 207.8 L1334.6 209.5 L1342.6 211.3 L1350.6 213.0 L1358.6 214.7 L1366.6 216.5 L1374.6 218.2" stroke-width="3.0" opacity="0.56"/><path d="M990.6 133.3 L998.6 135.4 L1006.6 137.5 L1014.6 139.6 L1022.6 141.7 L1030.6 143.8 L1038.6 145.9 L1046.6 148.0 L1054.6 150.1 L1062.6 152.2 L1070.6 154.3 L1078.6 156.4 L1086.6 158.5 L1094.6 160.6 L1102.6 162.7 L1110.6 164.7 L1118.6 166.7 L1126.6 168.8 L1134.6 170.8 L1142.6 172.8 L1150.6 174.8 L1158.6 176.8 L1166.6 178.9 L1174.6 180.8 L1182.6 182.8 L1190.6 184.7 L1198.6 186.7 L1206.6 188.6 L1214.6 190.5 L1222.6 192.5 L1230.6 194.4 L1238.6 196.4 L1246.6 198.3 L1254.6 200.3 L1262.6 202.3 L1270.6 204.3 L1278.6 206.4 L1286.6 208.4 L1294.6 210.4 L1302.6 212.4 L1310.6 214.4 L1318.6 216.3 L1326.6 218.2 L1334.6 220.1 L1342.6 221.9 L1350.6 223.8 L1358.6 225.7 L1366.6 227.6 L1374.6 229.4" stroke-width="3.0" opacity="0.51"/><path d="M1014.6 144.7 L1022.6 146.9 L1030.6 149.2 L1038.6 151.4 L1046.6 153.6 L1054.6 155.9 L1062.6 158.1 L1070.6 160.3 L1078.6 162.5 L1086.6 164.8 L1094.6 167.0 L1102.6 169.2 L1110.6 171.4 L1118.6 173.6 L1126.6 175.7 L1134.6 177.9 L1142.6 180.1 L1150.6 182.2 L1158.6 184.4 L1166.6 186.5 L1174.6 188.6 L1182.6 190.7 L1190.6 192.8 L1198.6 194.9 L1206.6 196.9 L1214.6 199.0 L1222.6 201.1 L1230.6 203.2 L1238.6 205.3 L1246.6 207.3 L1254.6 209.5 L1262.6 211.6 L1270.6 213.8 L1278.6 215.9 L1286.6 218.1 L1294.6 220.2 L1302.6 222.4 L1310.6 224.5 L1318.6 226.6 L1326.6 228.6 L1334.6 230.6 L1342.6 232.6 L1350.6 234.6 L1358.6 236.6 L1366.6 238.6 L1374.6 240.6" stroke-width="3.0" opacity="0.26"/><path d="M1046.6 159.2 L1054.6 161.6 L1062.6 164.0 L1070.6 166.3 L1078.6 168.7 L1086.6 171.1 L1094.6 173.4 L1102.6 175.8 L1110.6 178.1 L1118.6 180.4 L1126.6 182.7 L1134.6 185.0 L1142.6 187.3 L1150.6 189.6 L1158.6 191.9 L1166.6 194.2 L1174.6 196.4 L1182.6 198.6 L1190.6 200.9 L1198.6 203.1 L1206.6 205.3 L1214.6 207.5 L1222.6 209.7 L1230.6 211.9 L1238.6 214.1 L1246.6 216.4 L1254.6 218.6 L1262.6 220.9 L1270.6 223.2 L1278.6 225.5 L1286.6 227.8 L1294.6 230.1 L1302.6 232.4 L1310.6 234.7 L1318.6 236.8 L1326.6 239.0 L1334.6 241.1 L1342.6 243.3 L1350.6 245.4 L1358.6 247.6 L1366.6 249.7 L1374.6 251.9" stroke-width="3.0" opacity="0.23"/></g></g></g></g>
<g fill="none" stroke="#000" opacity=".95"><g transform="rotate(9.0 1100 190)"><g filter="url(#fnB)"><g transform="rotate(-9.0 1100 190)"><path d="M870.6 76.8 L878.6 79.1 L886.6 81.4 L894.6 83.8 L902.6 86.0 L910.6 87.9 L918.6 89.9 L926.6 91.9 L934.6 93.8 L942.6 95.7 L950.6 97.3 L958.6 99.0 L966.6 100.6 L974.6 102.2 L982.6 103.5 L990.6 104.7 L998.6 105.9 L1006.6 107.1 L1014.6 108.4 L1022.6 109.6 L1030.6 110.8 L1038.6 112.0 L1046.6 113.2 L1054.6 114.4 L1062.6 115.6 L1070.6 116.8 L1078.6 118.0 L1086.6 119.2 L1094.6 120.4 L1102.6 121.7 L1110.6 122.9 L1118.6 124.1 L1126.6 125.3 L1134.6 126.5 L1142.6 127.7 L1150.6 128.9 L1158.6 130.1 L1166.6 131.3 L1174.6 132.4 L1182.6 133.6 L1190.6 134.7 L1198.6 135.8 L1206.6 136.9 L1214.6 138.0 L1222.6 139.2 L1230.6 140.3 L1238.6 141.4 L1246.6 142.5 L1254.6 143.7 L1262.6 144.9 L1270.6 146.1 L1278.6 147.3 L1286.6 148.5 L1294.6 149.7 L1302.6 150.9 L1310.6 152.1 L1318.6 153.1 L1326.6 154.2 L1334.6 155.2 L1342.6 156.3 L1350.6 157.4 L1358.6 158.4 L1366.6 159.5 L1374.6 160.5" stroke-width="2.8" opacity="1.00"/><path d="M870.6 77.8 L878.6 80.3 L886.6 82.7 L894.6 85.2 L902.6 87.5 L910.6 89.6 L918.6 91.7 L926.6 93.8 L934.6 95.9 L942.6 97.9 L950.6 99.7 L958.6 101.5 L966.6 103.2 L974.6 105.0 L982.6 106.4 L990.6 107.8 L998.6 109.1 L1006.6 110.5 L1014.6 111.8 L1022.6 113.2 L1030.6 114.5 L1038.6 115.9 L1046.6 117.2 L1054.6 118.5 L1062.6 119.9 L1070.6 121.2 L1078.6 122.6 L1086.6 123.9 L1094.6 125.3 L1102.6 126.6 L1110.6 128.0 L1118.6 129.3 L1126.6 130.7 L1134.6 132.0 L1142.6 133.3 L1150.6 134.7 L1158.6 136.0 L1166.6 137.4 L1174.6 138.6 L1182.6 139.9 L1190.6 141.2 L1198.6 142.4 L1206.6 143.7 L1214.6 144.9 L1222.6 146.2 L1230.6 147.4 L1238.6 148.7 L1246.6 150.0 L1254.6 151.3 L1262.6 152.6 L1270.6 153.9 L1278.6 155.3 L1286.6 156.6 L1294.6 157.9 L1302.6 159.3 L1310.6 160.6 L1318.6 161.8 L1326.6 163.0 L1334.6 164.2 L1342.6 165.4 L1350.6 166.6 L1358.6 167.7 L1366.6 168.9 L1374.6 170.1" stroke-width="2.8" opacity="0.75"/><path d="M886.6 85.6 L894.6 88.2 L902.6 90.7 L910.6 92.9 L918.6 95.2 L926.6 97.4 L934.6 99.6 L942.6 101.8 L950.6 103.7 L958.6 105.6 L966.6 107.5 L974.6 109.4 L982.6 110.9 L990.6 112.4 L998.6 113.9 L1006.6 115.4 L1014.6 116.9 L1022.6 118.4 L1030.6 119.8 L1038.6 121.3 L1046.6 122.8 L1054.6 124.3 L1062.6 125.8 L1070.6 127.3 L1078.6 128.7 L1086.6 130.2 L1094.6 131.7 L1102.6 133.2 L1110.6 134.7 L1118.6 136.2 L1126.6 137.6 L1134.6 139.1 L1142.6 140.6 L1150.6 142.1 L1158.6 143.5 L1166.6 145.0 L1174.6 146.4 L1182.6 147.8 L1190.6 149.2 L1198.6 150.6 L1206.6 152.0 L1214.6 153.4 L1222.6 154.8 L1230.6 156.2 L1238.6 157.6 L1246.6 159.0 L1254.6 160.4 L1262.6 161.9 L1270.6 163.4 L1278.6 164.8 L1286.6 166.3 L1294.6 167.8 L1302.6 169.3 L1310.6 170.7 L1318.6 172.1 L1326.6 173.4 L1334.6 174.7 L1342.6 176.0 L1350.6 177.4 L1358.6 178.7 L1366.6 180.0 L1374.6 181.4" stroke-width="2.8" opacity="0.70"/><path d="M894.6 91.2 L902.6 93.8 L910.6 96.2 L918.6 98.6 L926.6 100.9 L934.6 103.3 L942.6 105.6 L950.6 107.6 L958.6 109.7 L966.6 111.7 L974.6 113.8 L982.6 115.5 L990.6 117.1 L998.6 118.7 L1006.6 120.3 L1014.6 121.9 L1022.6 123.6 L1030.6 125.2 L1038.6 126.8 L1046.6 128.4 L1054.6 130.0 L1062.6 131.7 L1070.6 133.3 L1078.6 134.9 L1086.6 136.5 L1094.6 138.1 L1102.6 139.8 L1110.6 141.4 L1118.6 143.0 L1126.6 144.6 L1134.6 146.2 L1142.6 147.8 L1150.6 149.5 L1158.6 151.1 L1166.6 152.7 L1174.6 154.2 L1182.6 155.8 L1190.6 157.3 L1198.6 158.8 L1206.6 160.4 L1214.6 161.9 L1222.6 163.4 L1230.6 165.0 L1238.6 166.5 L1246.6 168.0 L1254.6 169.6 L1262.6 171.2 L1270.6 172.8 L1278.6 174.4 L1286.6 176.0 L1294.6 177.6 L1302.6 179.3 L1310.6 180.9 L1318.6 182.3 L1326.6 183.8 L1334.6 185.2 L1342.6 186.7 L1350.6 188.2 L1358.6 189.6 L1366.6 191.1 L1374.6 192.6" stroke-width="2.8" opacity="0.66"/><path d="M910.6 99.5 L918.6 102.0 L926.6 104.5 L934.6 107.0 L942.6 109.4 L950.6 111.6 L958.6 113.8 L966.6 116.0 L974.6 118.1 L982.6 120.0 L990.6 121.7 L998.6 123.5 L1006.6 125.2 L1014.6 127.0 L1022.6 128.8 L1030.6 130.5 L1038.6 132.3 L1046.6 134.0 L1054.6 135.8 L1062.6 137.5 L1070.6 139.3 L1078.6 141.0 L1086.6 142.8 L1094.6 144.6 L1102.6 146.3 L1110.6 148.1 L1118.6 149.9 L1126.6 151.6 L1134.6 153.3 L1142.6 155.1 L1150.6 156.8 L1158.6 158.6 L1166.6 160.3 L1174.6 162.0 L1182.6 163.7 L1190.6 165.4 L1198.6 167.0 L1206.6 168.7 L1214.6 170.4 L1222.6 172.0 L1230.6 173.7 L1238.6 175.4 L1246.6 177.0 L1254.6 178.8 L1262.6 180.5 L1270.6 182.3 L1278.6 184.0 L1286.6 185.7 L1294.6 187.5 L1302.6 189.2 L1310.6 191.0 L1318.6 192.6 L1326.6 194.2 L1334.6 195.8 L1342.6 197.4 L1350.6 199.0 L1358.6 200.6 L1366.6 202.2 L1374.6 203.8" stroke-width="2.8" opacity="0.61"/><path d="M942.6 113.3 L950.6 115.6 L958.6 117.9 L966.6 120.2 L974.6 122.5 L982.6 124.5 L990.6 126.4 L998.6 128.3 L1006.6 130.2 L1014.6 132.1 L1022.6 134.0 L1030.6 135.9 L1038.6 137.7 L1046.6 139.6 L1054.6 141.5 L1062.6 143.4 L1070.6 145.3 L1078.6 147.2 L1086.6 149.1 L1094.6 151.0 L1102.6 152.9 L1110.6 154.8 L1118.6 156.7 L1126.6 158.6 L1134.6 160.5 L1142.6 162.3 L1150.6 164.2 L1158.6 166.1 L1166.6 168.0 L1174.6 169.8 L1182.6 171.6 L1190.6 173.4 L1198.6 175.3 L1206.6 177.1 L1214.6 178.9 L1222.6 180.7 L1230.6 182.5 L1238.6 184.3 L1246.6 186.1 L1254.6 187.9 L1262.6 189.8 L1270.6 191.7 L1278.6 193.6 L1286.6 195.5 L1294.6 197.3 L1302.6 199.2 L1310.6 201.1 L1318.6 202.8 L1326.6 204.6 L1334.6 206.3 L1342.6 208.1 L1350.6 209.8 L1358.6 211.5 L1366.6 213.3 L1374.6 215.0" stroke-width="2.8" opacity="0.56"/><path d="M974.6 126.9 L982.6 129.0 L990.6 131.0 L998.6 133.1 L1006.6 135.1 L1014.6 137.1 L1022.6 139.2 L1030.6 141.2 L1038.6 143.2 L1046.6 145.3 L1054.6 147.3 L1062.6 149.3 L1070.6 151.3 L1078.6 153.4 L1086.6 155.4 L1094.6 157.4 L1102.6 159.5 L1110.6 161.5 L1118.6 163.5 L1126.6 165.6 L1134.6 167.6 L1142.6 169.6 L1150.6 171.6 L1158.6 173.6 L1166.6 175.7 L1174.6 177.6 L1182.6 179.6 L1190.6 181.5 L1198.6 183.5 L1206.6 185.4 L1214.6 187.3 L1222.6 189.3 L1230.6 191.2 L1238.6 193.2 L1246.6 195.1 L1254.6 197.1 L1262.6 199.1 L1270.6 201.1 L1278.6 203.2 L1286.6 205.2 L1294.6 207.2 L1302.6 209.2 L1310.6 211.2 L1318.6 213.1 L1326.6 215.0 L1334.6 216.9 L1342.6 218.7 L1350.6 220.6 L1358.6 222.5 L1366.6 224.4 L1374.6 226.2" stroke-width="2.8" opacity="0.51"/><path d="M998.6 137.9 L1006.6 140.0 L1014.6 142.2 L1022.6 144.4 L1030.6 146.5 L1038.6 148.7 L1046.6 150.9 L1054.6 153.0 L1062.6 155.2 L1070.6 157.4 L1078.6 159.5 L1086.6 161.7 L1094.6 163.8 L1102.6 166.0 L1110.6 168.2 L1118.6 170.4 L1126.6 172.5 L1134.6 174.7 L1142.6 176.9 L1150.6 179.0 L1158.6 181.2 L1166.6 183.3 L1174.6 185.4 L1182.6 187.5 L1190.6 189.6 L1198.6 191.7 L1206.6 193.7 L1214.6 195.8 L1222.6 197.9 L1230.6 200.0 L1238.6 202.1 L1246.6 204.1 L1254.6 206.3 L1262.6 208.4 L1270.6 210.6 L1278.6 212.7 L1286.6 214.9 L1294.6 217.0 L1302.6 219.2 L1310.6 221.3 L1318.6 223.4 L1326.6 225.4 L1334.6 227.4 L1342.6 229.4 L1350.6 231.4 L1358.6 233.4 L1366.6 235.4 L1374.6 237.4" stroke-width="2.8" opacity="0.26"/><path d="M1030.6 151.9 L1038.6 154.2 L1046.6 156.5 L1054.6 158.8 L1062.6 161.1 L1070.6 163.4 L1078.6 165.7 L1086.6 168.0 L1094.6 170.3 L1102.6 172.6 L1110.6 174.9 L1118.6 177.2 L1126.6 179.5 L1134.6 181.8 L1142.6 184.1 L1150.6 186.4 L1158.6 188.7 L1166.6 191.0 L1174.6 193.2 L1182.6 195.4 L1190.6 197.7 L1198.6 199.9 L1206.6 202.1 L1214.6 204.3 L1222.6 206.5 L1230.6 208.7 L1238.6 210.9 L1246.6 213.2 L1254.6 215.4 L1262.6 217.7 L1270.6 220.0 L1278.6 222.3 L1286.6 224.6 L1294.6 226.9 L1302.6 229.2 L1310.6 231.5 L1318.6 233.6 L1326.6 235.8 L1334.6 237.9 L1342.6 240.1 L1350.6 242.2 L1358.6 244.4 L1366.6 246.5 L1374.6 248.7" stroke-width="2.8" opacity="0.23"/></g></g></g></g>
<g filter="url(#rb2)" opacity=".97"><path d="M862.7 76.0 L900.0 87.0 L940.0 97.5 L976.0 109.0 L1000.0 123.5 L1040.0 147.5 L1103.0 179.0 L1170.0 207.5 L1230.0 232.5 L1300.0 258.5 L1374.5 283.5 L1374.5 298.5 L1300.0 273.0 L1230.0 247.5 L1170.0 222.0 L1103.0 195.0 L1040.0 169.5 L976.0 143.5 L940.0 129.5 L900.0 108.5 L862.7 78.5 Z" fill="#5e1a8a"/></g>
<g filter="url(#rb2)" opacity=".5"><path d="M940.0 116.0 L976.0 131.0 L1040.0 160.0 L1103.0 188.5 L1170.0 216.5 L1230.0 242.0 L1300.0 268.0 L1374.5 293.0" fill="none" stroke="#c8143c" stroke-width="7" stroke-dasharray="34 12 22 9 46 14"/></g>
<g filter="url(#rb2)" opacity=".38"><path d="M862.7 80.0 L900.0 110.0 L940.0 131.0 L976.0 145.0 L1040.0 171.0 L1103.0 196.5 L1170.0 223.5 L1230.0 249.0 L1300.0 274.5 L1374.5 300.0 L1374.5 312.0 L1300.0 286.5 L1230.0 261.0 L1170.0 235.5 L1103.0 208.5 L1040.0 183.0 L976.0 157.0 L940.0 143.0 L900.0 122.0 L862.7 92.0 Z" fill="#7a2f9c"/></g>
<g opacity=".42"><g transform="rotate(22.0 1100 190)"><g filter="url(#spB)"><g transform="rotate(-22.0 1100 190)"><path d="M862.7 79.0 L900.0 109.0 L940.0 130.0 L976.0 144.0 L1040.0 170.0 L1103.0 195.5 L1170.0 222.5 L1230.0 248.0 L1300.0 273.5 L1374.5 299.0 L1374.5 316.0 L1300.0 290.5 L1230.0 265.0 L1170.0 239.5 L1103.0 212.5 L1040.0 187.0 L976.0 161.0 L940.0 147.0 L900.0 126.0 L862.7 96.0 Z" fill="#000"/></g></g></g></g>
<g opacity=".45"><g transform="rotate(22.0 1100 190)"><g filter="url(#spR)"><g transform="rotate(-22.0 1100 190)"><path d="M862.7 79.0 L900.0 109.0 L940.0 130.0 L976.0 144.0 L1040.0 170.0 L1103.0 195.5 L1170.0 222.5 L1230.0 248.0 L1300.0 273.5 L1374.5 299.0 L1374.5 316.0 L1300.0 290.5 L1230.0 265.0 L1170.0 239.5 L1103.0 212.5 L1040.0 187.0 L976.0 161.0 L940.0 147.0 L900.0 126.0 L862.7 96.0 Z" fill="#000"/></g></g></g></g>
<g opacity=".62"><g transform="rotate(22.0 1100 190)"><g filter="url(#spB)"><g transform="rotate(-22.0 1100 190)"><path d="M862.7 73.5 L900.0 84.5 L940.0 95.0 L976.0 106.5 L1000.0 121.0 L1040.0 145.0 L1103.0 176.5 L1170.0 205.0 L1230.0 230.0 L1300.0 256.0 L1374.5 281.0 L1374.5 300.5 L1300.0 275.0 L1230.0 249.5 L1170.0 224.0 L1103.0 197.0 L1040.0 171.5 L976.0 145.5 L940.0 131.5 L900.0 110.5 L862.7 80.5 Z" fill="#000"/></g></g></g></g>
<g opacity=".78"><g transform="rotate(22.0 1100 190)"><g filter="url(#spR)"><g transform="rotate(-22.0 1100 190)"><path d="M862.7 73.5 L900.0 84.5 L940.0 95.0 L976.0 106.5 L1000.0 121.0 L1040.0 145.0 L1103.0 176.5 L1170.0 205.0 L1230.0 230.0 L1300.0 256.0 L1374.5 281.0 L1374.5 300.5 L1300.0 275.0 L1230.0 249.5 L1170.0 224.0 L1103.0 197.0 L1040.0 171.5 L976.0 145.5 L940.0 131.5 L900.0 110.5 L862.7 80.5 Z" fill="#000"/></g></g></g></g>
</g>
<rect x="862.6" y="65.6" width="511.6" height="311.4" fill="none" stroke="#4a4a4a" stroke-width="1.8"/>
<path d="M979.6 65.6 v5.5 M979.6 377.0 v-5.5 M1097.0 65.6 v5.5 M1097.0 377.0 v-5.5 M1214.4 65.6 v5.5 M1214.4 377.0 v-5.5 M1331.8 65.6 v5.5 M1331.8 377.0 v-5.5 M862.6 221.3 h5.5 M1374.2 221.3 h-5.5" stroke="#4a4a4a" stroke-width="1.6" fill="none"/>
<text x="1024.6" y="45.6" font-size="40.5" fill="#000" textLength="164.2" lengthAdjust="spacingAndGlyphs">Raw data</text>
<text x="949.1" y="411.6" font-size="30.5" fill="#3c3c3c" textLength="61.0" lengthAdjust="spacingAndGlyphs">1000</text>
<text x="1066.5" y="411.6" font-size="30.5" fill="#3c3c3c" textLength="61.0" lengthAdjust="spacingAndGlyphs">2000</text>
<text x="1183.9" y="411.6" font-size="30.5" fill="#3c3c3c" textLength="61.0" lengthAdjust="spacingAndGlyphs">3000</text>
<text x="1301.3" y="411.6" font-size="30.5" fill="#3c3c3c" textLength="61.0" lengthAdjust="spacingAndGlyphs">4000</text>
<text x="838.6" y="72.0" font-size="30.5" fill="#3c3c3c" textLength="16.4" lengthAdjust="spacingAndGlyphs">0</text>
<text x="838.6" y="227.6" font-size="30.5" fill="#3c3c3c" textLength="16.4" lengthAdjust="spacingAndGlyphs">2</text>
<text x="838.6" y="382.4" font-size="30.5" fill="#3c3c3c" textLength="16.4" lengthAdjust="spacingAndGlyphs">4</text>
<text x="1055.0" y="458.2" font-size="31" fill="#3c3c3c" textLength="125.0" lengthAdjust="spacingAndGlyphs">range(m)</text>
<text transform="translate(818.4,269.0) rotate(-90)" x="0" y="0" font-size="31" fill="#3c3c3c" textLength="94.6" lengthAdjust="spacingAndGlyphs">time(s)</text>
</g>
<g id="heatmap">
<rect x="1568.0" y="198.8" width="480.6" height="311.2" fill="#000092"/>
<g clip-path="url(#hclip)" fill="none" stroke-linecap="butt" stroke-linejoin="round">
<g filter="url(#hb20)">
<path d="M1630 190 L1840 190 L1900 300 L1990 420 L1940 500 L1640 500 Z" fill="#0000d6" opacity="0.9"/>
<path d="M1600 380 L1700 400 L1900 470 L1930 515 L1600 515 Z" fill="#0000c8" opacity="0.6"/>
</g>
<g filter="url(#hb4)" stroke="#0000d8" opacity="0.75">
<path d="M1592 195 V515" stroke-width="5"/>
<path d="M1604 195 V515" stroke-width="4"/>
<path d="M1616 195 V515" stroke-width="6"/>
<path d="M1626 195 V515" stroke-width="4"/>
</g>
<g filter="url(#hb8)">
<path d="M1636.0 372.0 C1636.1 374.0 1636.0 379.7 1636.4 384.0 C1636.8 388.3 1637.2 393.3 1638.2 398.0 C1639.2 402.7 1640.8 408.1 1642.5 412.0 C1644.2 415.9 1646.7 418.7 1648.6 421.2 C1650.5 423.7 1653.1 426.0 1654.0 427.0" stroke="url(#hgA00)" stroke-width="12.2"/>
<path d="M1638.5 402.0 C1639.2 403.9 1641.3 410.3 1643.0 413.5 C1644.7 416.7 1646.1 418.4 1648.6 421.2 C1651.1 424.0 1654.8 427.6 1658.0 430.5 C1661.2 433.4 1664.4 436.2 1667.6 438.6 C1670.8 441.0 1673.8 442.8 1677.0 444.8 C1680.2 446.8 1682.3 448.1 1686.5 450.4 C1690.7 452.7 1697.1 456.1 1702.4 458.4 C1707.7 460.6 1712.9 462.2 1718.2 463.9 C1723.5 465.6 1728.7 467.1 1734.0 468.6 C1739.3 470.1 1744.5 471.7 1749.8 473.0 C1755.1 474.3 1760.3 475.4 1765.6 476.5 C1770.9 477.6 1776.2 478.8 1781.5 479.7 C1786.8 480.6 1793.2 481.6 1797.3 482.2 C1801.4 482.8 1803.4 483.0 1806.0 483.4 C1808.6 483.8 1808.7 484.0 1813.0 484.5 C1817.3 485.0 1825.4 485.8 1831.6 486.4 C1837.8 487.0 1846.9 488.1 1850.0 488.4" stroke="url(#hgA0)" stroke-width="30.6"/>
<path d="M1800.0 482.6 C1802.5 483.0 1809.7 484.1 1815.0 484.7 C1820.3 485.3 1824.9 485.7 1831.6 486.4 C1838.3 487.1 1847.1 488.1 1855.0 488.8 C1862.9 489.5 1871.5 490.2 1879.0 490.8 C1886.5 491.4 1893.4 491.8 1900.0 492.2 C1906.6 492.6 1910.3 492.7 1918.6 493.1 C1926.9 493.5 1944.8 494.3 1950.0 494.5" stroke="url(#hgAt0)" stroke-width="14.3"/>
<path d="M1648.0 400.0 C1650.0 402.2 1655.2 409.2 1660.0 413.5 C1664.8 417.8 1670.5 421.7 1676.7 426.0 C1682.9 430.3 1690.0 435.5 1697.0 439.5 C1704.0 443.5 1711.4 447.0 1718.6 450.2 C1725.8 453.4 1733.1 456.1 1740.0 458.5 C1746.9 460.9 1752.5 462.5 1760.0 464.5 C1767.5 466.5 1776.5 468.6 1785.0 470.3 C1793.5 472.0 1801.6 473.1 1810.8 474.5 C1820.0 475.9 1830.1 477.6 1840.0 479.0 C1849.9 480.4 1865.0 482.3 1870.0 483.0" stroke="url(#hgA20)" stroke-width="11.6"/>
<path d="M1641.6 185.0 C1641.8 190.0 1642.3 205.3 1643.0 215.0 C1643.7 224.7 1644.2 234.3 1645.5 243.3 C1646.8 252.3 1649.2 258.5 1651.0 269.0 C1652.8 279.5 1654.0 295.3 1656.0 306.5 C1658.0 317.7 1660.6 327.8 1662.8 336.0 C1665.0 344.2 1667.1 349.6 1669.4 356.0 C1671.7 362.4 1673.7 368.4 1676.5 374.5 C1679.3 380.6 1682.7 387.0 1686.5 392.7 C1690.3 398.4 1695.0 404.0 1699.2 408.5 C1703.4 413.0 1707.3 416.4 1711.8 419.6 C1716.3 422.8 1721.0 425.4 1726.0 427.5 C1731.0 429.6 1735.3 430.4 1741.9 432.3 C1748.5 434.2 1757.7 436.8 1765.6 438.6 C1773.5 440.4 1781.2 441.9 1789.4 443.3 C1797.6 444.7 1810.7 446.4 1815.0 447.0" stroke="url(#hgB0)" stroke-width="35.4"/>
<path d="M1787.5 185.0 C1788.8 188.5 1792.4 198.7 1795.0 205.8 C1797.6 212.9 1800.0 219.3 1803.0 227.5 C1806.0 235.7 1809.8 246.2 1813.0 255.0 C1816.2 263.8 1818.9 272.0 1822.0 280.0 C1825.1 288.0 1827.8 295.5 1831.6 303.0 C1835.4 310.5 1839.7 317.5 1845.0 325.0 C1850.3 332.5 1856.6 340.8 1863.3 348.0 C1870.0 355.2 1877.2 362.0 1885.0 368.0 C1892.8 374.0 1905.8 381.3 1910.0 384.0" stroke="url(#hgC0)" stroke-width="36.7"/>
<path d="M1668.0 185.0 C1668.7 192.5 1670.2 212.5 1672.0 230.0 C1673.8 247.5 1676.0 269.0 1679.0 290.0 C1682.0 311.0 1685.4 339.3 1689.7 356.0 C1694.0 372.7 1698.8 380.2 1705.0 390.0 C1711.2 399.8 1718.0 408.3 1727.2 415.0 C1736.4 421.7 1747.9 425.8 1760.0 430.0 C1772.1 434.2 1793.3 438.3 1800.0 440.0" stroke="url(#hgD10)" stroke-width="30.6"/>
<path d="M1655.0 185.0 C1655.5 194.2 1656.2 219.2 1658.0 240.0 C1659.8 260.8 1662.7 289.2 1666.0 310.0 C1669.3 330.8 1673.3 350.3 1678.0 365.0 C1682.7 379.7 1687.8 388.8 1694.0 398.0 C1700.2 407.2 1711.5 416.3 1715.0 420.0" stroke="url(#hgD1b0)" stroke-width="13.6"/>
<path d="M1700.0 185.0 C1701.0 194.2 1703.3 220.8 1706.0 240.0 C1708.7 259.2 1712.0 281.7 1716.0 300.0 C1720.0 318.3 1724.0 334.2 1730.0 350.0 C1736.0 365.8 1742.8 383.3 1752.0 395.0 C1761.2 406.7 1772.0 413.2 1785.0 420.0 C1798.0 426.8 1811.7 432.4 1830.0 436.0 C1848.3 439.6 1878.3 439.9 1895.0 441.7 C1911.7 443.5 1924.2 446.1 1930.0 447.0" stroke="url(#hgD40)" stroke-width="20.4"/>
<path d="M1722.0 185.0 C1723.0 192.5 1725.2 216.0 1728.0 230.0 C1730.8 244.0 1734.7 255.7 1738.7 269.0 C1742.7 282.3 1747.5 296.8 1752.0 310.0 C1756.5 323.2 1759.3 335.5 1765.6 348.0 C1771.9 360.5 1779.3 374.3 1790.0 385.0 C1800.7 395.7 1815.0 404.8 1830.0 412.0 C1845.0 419.2 1863.9 422.0 1880.0 428.0 C1896.1 434.0 1918.8 444.7 1926.5 448.0" stroke="url(#hgD20)" stroke-width="23.8"/>
<path d="M1756.0 185.0 C1757.7 192.5 1761.8 216.0 1766.0 230.0 C1770.2 244.0 1776.4 256.5 1781.4 269.0 C1786.4 281.5 1790.7 294.5 1796.0 305.0 C1801.3 315.5 1805.7 322.5 1813.0 332.0 C1820.3 341.5 1830.3 353.7 1840.0 362.0 C1849.7 370.3 1859.2 375.2 1871.0 381.6 C1882.8 388.0 1897.5 395.4 1910.7 400.6 C1923.9 405.8 1943.5 410.9 1950.0 413.0" stroke="url(#hgD30)" stroke-width="27.2"/>
<path d="M1760.0 352.0 C1766.7 355.6 1785.4 366.1 1800.0 373.7 C1814.6 381.3 1831.7 391.4 1847.5 397.5 C1863.3 403.6 1877.9 407.4 1895.0 410.0 C1912.1 412.6 1940.8 412.5 1950.0 413.0" stroke="url(#hgS10)" stroke-width="22.1"/>
<path d="M1770.0 402.0 C1775.0 403.9 1787.1 408.8 1800.0 413.3 C1812.9 417.8 1831.7 424.3 1847.5 429.0 C1863.3 433.7 1881.8 438.5 1895.0 441.7 C1908.2 444.9 1915.7 446.3 1926.5 448.0 C1937.3 449.7 1954.4 451.3 1960.0 452.0" stroke="url(#hgS30)" stroke-width="20.4"/>
<path d="M1824.0 185.0 C1825.3 192.5 1828.1 213.3 1832.0 230.0 C1835.9 246.7 1842.5 270.0 1847.5 285.0 C1852.5 300.0 1856.8 309.5 1862.0 320.0 C1867.2 330.5 1871.8 338.8 1879.0 348.0 C1886.2 357.2 1894.8 366.7 1905.0 375.0 C1915.2 383.3 1927.5 392.2 1940.0 398.0 C1952.5 403.8 1973.3 408.0 1980.0 410.0" stroke="url(#hgE10)" stroke-width="27.2"/>
<path d="M1862.0 185.0 C1863.7 194.2 1867.3 222.5 1872.0 240.0 C1876.7 257.5 1882.8 274.2 1890.0 290.0 C1897.2 305.8 1905.8 322.5 1915.0 335.0 C1924.2 347.5 1933.3 356.7 1945.0 365.0 C1956.7 373.3 1978.3 381.7 1985.0 385.0" stroke="url(#hgE30)" stroke-width="20.4"/>
<path d="M1908.0 185.0 C1909.0 190.0 1911.4 206.2 1914.0 215.0 C1916.6 223.8 1919.7 229.2 1923.4 237.5 C1927.1 245.8 1931.6 257.1 1936.0 265.0 C1940.4 272.9 1943.5 276.7 1950.0 285.0 C1956.5 293.3 1966.7 306.7 1975.0 315.0 C1983.3 323.3 1995.8 331.7 2000.0 335.0" stroke="url(#hgE20)" stroke-width="20.4"/>
<path d="M1850.0 452.0 C1857.5 452.9 1876.7 455.9 1895.0 457.6 C1913.3 459.3 1936.3 460.4 1960.0 462.0 C1983.7 463.6 2024.2 466.2 2037.0 467.0" stroke="url(#hgS40)" stroke-width="17.0"/>
</g>
<g filter="url(#hb4)">
<path d="M1636.0 372.0 C1636.1 374.0 1636.0 379.7 1636.4 384.0 C1636.8 388.3 1637.2 393.3 1638.2 398.0 C1639.2 402.7 1640.8 408.1 1642.5 412.0 C1644.2 415.9 1646.7 418.7 1648.6 421.2 C1650.5 423.7 1653.1 426.0 1654.0 427.0" stroke="url(#hgA01)" stroke-width="7.2"/>
<path d="M1638.5 402.0 C1639.2 403.9 1641.3 410.3 1643.0 413.5 C1644.7 416.7 1646.1 418.4 1648.6 421.2 C1651.1 424.0 1654.8 427.6 1658.0 430.5 C1661.2 433.4 1664.4 436.2 1667.6 438.6 C1670.8 441.0 1673.8 442.8 1677.0 444.8 C1680.2 446.8 1682.3 448.1 1686.5 450.4 C1690.7 452.7 1697.1 456.1 1702.4 458.4 C1707.7 460.6 1712.9 462.2 1718.2 463.9 C1723.5 465.6 1728.7 467.1 1734.0 468.6 C1739.3 470.1 1744.5 471.7 1749.8 473.0 C1755.1 474.3 1760.3 475.4 1765.6 476.5 C1770.9 477.6 1776.2 478.8 1781.5 479.7 C1786.8 480.6 1793.2 481.6 1797.3 482.2 C1801.4 482.8 1803.4 483.0 1806.0 483.4 C1808.6 483.8 1808.7 484.0 1813.0 484.5 C1817.3 485.0 1825.4 485.8 1831.6 486.4 C1837.8 487.0 1846.9 488.1 1850.0 488.4" stroke="url(#hgA1)" stroke-width="18.0"/>
<path d="M1800.0 482.6 C1802.5 483.0 1809.7 484.1 1815.0 484.7 C1820.3 485.3 1824.9 485.7 1831.6 486.4 C1838.3 487.1 1847.1 488.1 1855.0 488.8 C1862.9 489.5 1871.5 490.2 1879.0 490.8 C1886.5 491.4 1893.4 491.8 1900.0 492.2 C1906.6 492.6 1910.3 492.7 1918.6 493.1 C1926.9 493.5 1944.8 494.3 1950.0 494.5" stroke="url(#hgAt1)" stroke-width="8.4"/>
<path d="M1648.0 400.0 C1650.0 402.2 1655.2 409.2 1660.0 413.5 C1664.8 417.8 1670.5 421.7 1676.7 426.0 C1682.9 430.3 1690.0 435.5 1697.0 439.5 C1704.0 443.5 1711.4 447.0 1718.6 450.2 C1725.8 453.4 1733.1 456.1 1740.0 458.5 C1746.9 460.9 1752.5 462.5 1760.0 464.5 C1767.5 466.5 1776.5 468.6 1785.0 470.3 C1793.5 472.0 1801.6 473.1 1810.8 474.5 C1820.0 475.9 1830.1 477.6 1840.0 479.0 C1849.9 480.4 1865.0 482.3 1870.0 483.0" stroke="url(#hgA21)" stroke-width="6.8"/>
<path d="M1641.6 185.0 C1641.8 190.0 1642.3 205.3 1643.0 215.0 C1643.7 224.7 1644.2 234.3 1645.5 243.3 C1646.8 252.3 1649.2 258.5 1651.0 269.0 C1652.8 279.5 1654.0 295.3 1656.0 306.5 C1658.0 317.7 1660.6 327.8 1662.8 336.0 C1665.0 344.2 1667.1 349.6 1669.4 356.0 C1671.7 362.4 1673.7 368.4 1676.5 374.5 C1679.3 380.6 1682.7 387.0 1686.5 392.7 C1690.3 398.4 1695.0 404.0 1699.2 408.5 C1703.4 413.0 1707.3 416.4 1711.8 419.6 C1716.3 422.8 1721.0 425.4 1726.0 427.5 C1731.0 429.6 1735.3 430.4 1741.9 432.3 C1748.5 434.2 1757.7 436.8 1765.6 438.6 C1773.5 440.4 1781.2 441.9 1789.4 443.3 C1797.6 444.7 1810.7 446.4 1815.0 447.0" stroke="url(#hgB1)" stroke-width="20.8"/>
<path d="M1787.5 185.0 C1788.8 188.5 1792.4 198.7 1795.0 205.8 C1797.6 212.9 1800.0 219.3 1803.0 227.5 C1806.0 235.7 1809.8 246.2 1813.0 255.0 C1816.2 263.8 1818.9 272.0 1822.0 280.0 C1825.1 288.0 1827.8 295.5 1831.6 303.0 C1835.4 310.5 1839.7 317.5 1845.0 325.0 C1850.3 332.5 1856.6 340.8 1863.3 348.0 C1870.0 355.2 1877.2 362.0 1885.0 368.0 C1892.8 374.0 1905.8 381.3 1910.0 384.0" stroke="url(#hgC1)" stroke-width="21.6"/>
<path d="M1668.0 185.0 C1668.7 192.5 1670.2 212.5 1672.0 230.0 C1673.8 247.5 1676.0 269.0 1679.0 290.0 C1682.0 311.0 1685.4 339.3 1689.7 356.0 C1694.0 372.7 1698.8 380.2 1705.0 390.0 C1711.2 399.8 1718.0 408.3 1727.2 415.0 C1736.4 421.7 1747.9 425.8 1760.0 430.0 C1772.1 434.2 1793.3 438.3 1800.0 440.0" stroke="url(#hgD11)" stroke-width="18.0"/>
<path d="M1655.0 185.0 C1655.5 194.2 1656.2 219.2 1658.0 240.0 C1659.8 260.8 1662.7 289.2 1666.0 310.0 C1669.3 330.8 1673.3 350.3 1678.0 365.0 C1682.7 379.7 1687.8 388.8 1694.0 398.0 C1700.2 407.2 1711.5 416.3 1715.0 420.0" stroke="url(#hgD1b1)" stroke-width="8.0"/>
<path d="M1700.0 185.0 C1701.0 194.2 1703.3 220.8 1706.0 240.0 C1708.7 259.2 1712.0 281.7 1716.0 300.0 C1720.0 318.3 1724.0 334.2 1730.0 350.0 C1736.0 365.8 1742.8 383.3 1752.0 395.0 C1761.2 406.7 1772.0 413.2 1785.0 420.0 C1798.0 426.8 1811.7 432.4 1830.0 436.0 C1848.3 439.6 1878.3 439.9 1895.0 441.7 C1911.7 443.5 1924.2 446.1 1930.0 447.0" stroke="url(#hgD41)" stroke-width="12.0"/>
<path d="M1722.0 185.0 C1723.0 192.5 1725.2 216.0 1728.0 230.0 C1730.8 244.0 1734.7 255.7 1738.7 269.0 C1742.7 282.3 1747.5 296.8 1752.0 310.0 C1756.5 323.2 1759.3 335.5 1765.6 348.0 C1771.9 360.5 1779.3 374.3 1790.0 385.0 C1800.7 395.7 1815.0 404.8 1830.0 412.0 C1845.0 419.2 1863.9 422.0 1880.0 428.0 C1896.1 434.0 1918.8 444.7 1926.5 448.0" stroke="url(#hgD21)" stroke-width="14.0"/>
<path d="M1756.0 185.0 C1757.7 192.5 1761.8 216.0 1766.0 230.0 C1770.2 244.0 1776.4 256.5 1781.4 269.0 C1786.4 281.5 1790.7 294.5 1796.0 305.0 C1801.3 315.5 1805.7 322.5 1813.0 332.0 C1820.3 341.5 1830.3 353.7 1840.0 362.0 C1849.7 370.3 1859.2 375.2 1871.0 381.6 C1882.8 388.0 1897.5 395.4 1910.7 400.6 C1923.9 405.8 1943.5 410.9 1950.0 413.0" stroke="url(#hgD31)" stroke-width="16.0"/>
<path d="M1760.0 352.0 C1766.7 355.6 1785.4 366.1 1800.0 373.7 C1814.6 381.3 1831.7 391.4 1847.5 397.5 C1863.3 403.6 1877.9 407.4 1895.0 410.0 C1912.1 412.6 1940.8 412.5 1950.0 413.0" stroke="url(#hgS11)" stroke-width="13.0"/>
<path d="M1770.0 402.0 C1775.0 403.9 1787.1 408.8 1800.0 413.3 C1812.9 417.8 1831.7 424.3 1847.5 429.0 C1863.3 433.7 1881.8 438.5 1895.0 441.7 C1908.2 444.9 1915.7 446.3 1926.5 448.0 C1937.3 449.7 1954.4 451.3 1960.0 452.0" stroke="url(#hgS31)" stroke-width="12.0"/>
<path d="M1824.0 185.0 C1825.3 192.5 1828.1 213.3 1832.0 230.0 C1835.9 246.7 1842.5 270.0 1847.5 285.0 C1852.5 300.0 1856.8 309.5 1862.0 320.0 C1867.2 330.5 1871.8 338.8 1879.0 348.0 C1886.2 357.2 1894.8 366.7 1905.0 375.0 C1915.2 383.3 1927.5 392.2 1940.0 398.0 C1952.5 403.8 1973.3 408.0 1980.0 410.0" stroke="url(#hgE11)" stroke-width="16.0"/>
<path d="M1850.0 452.0 C1857.5 452.9 1876.7 455.9 1895.0 457.6 C1913.3 459.3 1936.3 460.4 1960.0 462.0 C1983.7 463.6 2024.2 466.2 2037.0 467.0" stroke="url(#hgS41)" stroke-width="10.0"/>
</g>
<g filter="url(#hb3)">
<path d="M1636.0 372.0 C1636.1 374.0 1636.0 379.7 1636.4 384.0 C1636.8 388.3 1637.2 393.3 1638.2 398.0 C1639.2 402.7 1640.8 408.1 1642.5 412.0 C1644.2 415.9 1646.7 418.7 1648.6 421.2 C1650.5 423.7 1653.1 426.0 1654.0 427.0" stroke="url(#hgA02)" stroke-width="4.9"/>
<path d="M1638.5 402.0 C1639.2 403.9 1641.3 410.3 1643.0 413.5 C1644.7 416.7 1646.1 418.4 1648.6 421.2 C1651.1 424.0 1654.8 427.6 1658.0 430.5 C1661.2 433.4 1664.4 436.2 1667.6 438.6 C1670.8 441.0 1673.8 442.8 1677.0 444.8 C1680.2 446.8 1682.3 448.1 1686.5 450.4 C1690.7 452.7 1697.1 456.1 1702.4 458.4 C1707.7 460.6 1712.9 462.2 1718.2 463.9 C1723.5 465.6 1728.7 467.1 1734.0 468.6 C1739.3 470.1 1744.5 471.7 1749.8 473.0 C1755.1 474.3 1760.3 475.4 1765.6 476.5 C1770.9 477.6 1776.2 478.8 1781.5 479.7 C1786.8 480.6 1793.2 481.6 1797.3 482.2 C1801.4 482.8 1803.4 483.0 1806.0 483.4 C1808.6 483.8 1808.7 484.0 1813.0 484.5 C1817.3 485.0 1825.4 485.8 1831.6 486.4 C1837.8 487.0 1846.9 488.1 1850.0 488.4" stroke="url(#hgA2)" stroke-width="12.2"/>
<path d="M1800.0 482.6 C1802.5 483.0 1809.7 484.1 1815.0 484.7 C1820.3 485.3 1824.9 485.7 1831.6 486.4 C1838.3 487.1 1847.1 488.1 1855.0 488.8 C1862.9 489.5 1871.5 490.2 1879.0 490.8 C1886.5 491.4 1893.4 491.8 1900.0 492.2 C1906.6 492.6 1910.3 492.7 1918.6 493.1 C1926.9 493.5 1944.8 494.3 1950.0 494.5" stroke="url(#hgAt2)" stroke-width="5.7"/>
<path d="M1648.0 400.0 C1650.0 402.2 1655.2 409.2 1660.0 413.5 C1664.8 417.8 1670.5 421.7 1676.7 426.0 C1682.9 430.3 1690.0 435.5 1697.0 439.5 C1704.0 443.5 1711.4 447.0 1718.6 450.2 C1725.8 453.4 1733.1 456.1 1740.0 458.5 C1746.9 460.9 1752.5 462.5 1760.0 464.5 C1767.5 466.5 1776.5 468.6 1785.0 470.3 C1793.5 472.0 1801.6 473.1 1810.8 474.5 C1820.0 475.9 1830.1 477.6 1840.0 479.0 C1849.9 480.4 1865.0 482.3 1870.0 483.0" stroke="url(#hgA22)" stroke-width="4.6"/>
<path d="M1641.6 185.0 C1641.8 190.0 1642.3 205.3 1643.0 215.0 C1643.7 224.7 1644.2 234.3 1645.5 243.3 C1646.8 252.3 1649.2 258.5 1651.0 269.0 C1652.8 279.5 1654.0 295.3 1656.0 306.5 C1658.0 317.7 1660.6 327.8 1662.8 336.0 C1665.0 344.2 1667.1 349.6 1669.4 356.0 C1671.7 362.4 1673.7 368.4 1676.5 374.5 C1679.3 380.6 1682.7 387.0 1686.5 392.7 C1690.3 398.4 1695.0 404.0 1699.2 408.5 C1703.4 413.0 1707.3 416.4 1711.8 419.6 C1716.3 422.8 1721.0 425.4 1726.0 427.5 C1731.0 429.6 1735.3 430.4 1741.9 432.3 C1748.5 434.2 1757.7 436.8 1765.6 438.6 C1773.5 440.4 1781.2 441.9 1789.4 443.3 C1797.6 444.7 1810.7 446.4 1815.0 447.0" stroke="url(#hgB2)" stroke-width="14.0"/>
<path d="M1787.5 185.0 C1788.8 188.5 1792.4 198.7 1795.0 205.8 C1797.6 212.9 1800.0 219.3 1803.0 227.5 C1806.0 235.7 1809.8 246.2 1813.0 255.0 C1816.2 263.8 1818.9 272.0 1822.0 280.0 C1825.1 288.0 1827.8 295.5 1831.6 303.0 C1835.4 310.5 1839.7 317.5 1845.0 325.0 C1850.3 332.5 1856.6 340.8 1863.3 348.0 C1870.0 355.2 1877.2 362.0 1885.0 368.0 C1892.8 374.0 1905.8 381.3 1910.0 384.0" stroke="url(#hgC2)" stroke-width="14.6"/>
<path d="M1668.0 185.0 C1668.7 192.5 1670.2 212.5 1672.0 230.0 C1673.8 247.5 1676.0 269.0 1679.0 290.0 C1682.0 311.0 1685.4 339.3 1689.7 356.0 C1694.0 372.7 1698.8 380.2 1705.0 390.0 C1711.2 399.8 1718.0 408.3 1727.2 415.0 C1736.4 421.7 1747.9 425.8 1760.0 430.0 C1772.1 434.2 1793.3 438.3 1800.0 440.0" stroke="url(#hgD12)" stroke-width="12.2"/>
<path d="M1722.0 185.0 C1723.0 192.5 1725.2 216.0 1728.0 230.0 C1730.8 244.0 1734.7 255.7 1738.7 269.0 C1742.7 282.3 1747.5 296.8 1752.0 310.0 C1756.5 323.2 1759.3 335.5 1765.6 348.0 C1771.9 360.5 1779.3 374.3 1790.0 385.0 C1800.7 395.7 1815.0 404.8 1830.0 412.0 C1845.0 419.2 1863.9 422.0 1880.0 428.0 C1896.1 434.0 1918.8 444.7 1926.5 448.0" stroke="url(#hgD22)" stroke-width="9.5"/>
<path d="M1756.0 185.0 C1757.7 192.5 1761.8 216.0 1766.0 230.0 C1770.2 244.0 1776.4 256.5 1781.4 269.0 C1786.4 281.5 1790.7 294.5 1796.0 305.0 C1801.3 315.5 1805.7 322.5 1813.0 332.0 C1820.3 341.5 1830.3 353.7 1840.0 362.0 C1849.7 370.3 1859.2 375.2 1871.0 381.6 C1882.8 388.0 1897.5 395.4 1910.7 400.6 C1923.9 405.8 1943.5 410.9 1950.0 413.0" stroke="url(#hgD32)" stroke-width="10.8"/>
<path d="M1760.0 352.0 C1766.7 355.6 1785.4 366.1 1800.0 373.7 C1814.6 381.3 1831.7 391.4 1847.5 397.5 C1863.3 403.6 1877.9 407.4 1895.0 410.0 C1912.1 412.6 1940.8 412.5 1950.0 413.0" stroke="url(#hgS12)" stroke-width="8.8"/>
<path d="M1770.0 402.0 C1775.0 403.9 1787.1 408.8 1800.0 413.3 C1812.9 417.8 1831.7 424.3 1847.5 429.0 C1863.3 433.7 1881.8 438.5 1895.0 441.7 C1908.2 444.9 1915.7 446.3 1926.5 448.0 C1937.3 449.7 1954.4 451.3 1960.0 452.0" stroke="url(#hgS32)" stroke-width="8.1"/>
</g>
<g filter="url(#hb2)">
<path d="M1636.0 372.0 C1636.1 374.0 1636.0 379.7 1636.4 384.0 C1636.8 388.3 1637.2 393.3 1638.2 398.0 C1639.2 402.7 1640.8 408.1 1642.5 412.0 C1644.2 415.9 1646.7 418.7 1648.6 421.2 C1650.5 423.7 1653.1 426.0 1654.0 427.0" stroke="url(#hgA03)" stroke-width="3.6"/>
<path d="M1638.5 402.0 C1639.2 403.9 1641.3 410.3 1643.0 413.5 C1644.7 416.7 1646.1 418.4 1648.6 421.2 C1651.1 424.0 1654.8 427.6 1658.0 430.5 C1661.2 433.4 1664.4 436.2 1667.6 438.6 C1670.8 441.0 1673.8 442.8 1677.0 444.8 C1680.2 446.8 1682.3 448.1 1686.5 450.4 C1690.7 452.7 1697.1 456.1 1702.4 458.4 C1707.7 460.6 1712.9 462.2 1718.2 463.9 C1723.5 465.6 1728.7 467.1 1734.0 468.6 C1739.3 470.1 1744.5 471.7 1749.8 473.0 C1755.1 474.3 1760.3 475.4 1765.6 476.5 C1770.9 477.6 1776.2 478.8 1781.5 479.7 C1786.8 480.6 1793.2 481.6 1797.3 482.2 C1801.4 482.8 1803.4 483.0 1806.0 483.4 C1808.6 483.8 1808.7 484.0 1813.0 484.5 C1817.3 485.0 1825.4 485.8 1831.6 486.4 C1837.8 487.0 1846.9 488.1 1850.0 488.4" stroke="url(#hgA3)" stroke-width="9.0"/>
<path d="M1800.0 482.6 C1802.5 483.0 1809.7 484.1 1815.0 484.7 C1820.3 485.3 1824.9 485.7 1831.6 486.4 C1838.3 487.1 1847.1 488.1 1855.0 488.8 C1862.9 489.5 1871.5 490.2 1879.0 490.8 C1886.5 491.4 1893.4 491.8 1900.0 492.2 C1906.6 492.6 1910.3 492.7 1918.6 493.1 C1926.9 493.5 1944.8 494.3 1950.0 494.5" stroke="url(#hgAt3)" stroke-width="4.2"/>
<path d="M1648.0 400.0 C1650.0 402.2 1655.2 409.2 1660.0 413.5 C1664.8 417.8 1670.5 421.7 1676.7 426.0 C1682.9 430.3 1690.0 435.5 1697.0 439.5 C1704.0 443.5 1711.4 447.0 1718.6 450.2 C1725.8 453.4 1733.1 456.1 1740.0 458.5 C1746.9 460.9 1752.5 462.5 1760.0 464.5 C1767.5 466.5 1776.5 468.6 1785.0 470.3 C1793.5 472.0 1801.6 473.1 1810.8 474.5 C1820.0 475.9 1830.1 477.6 1840.0 479.0 C1849.9 480.4 1865.0 482.3 1870.0 483.0" stroke="url(#hgA23)" stroke-width="3.4"/>
<path d="M1641.6 185.0 C1641.8 190.0 1642.3 205.3 1643.0 215.0 C1643.7 224.7 1644.2 234.3 1645.5 243.3 C1646.8 252.3 1649.2 258.5 1651.0 269.0 C1652.8 279.5 1654.0 295.3 1656.0 306.5 C1658.0 317.7 1660.6 327.8 1662.8 336.0 C1665.0 344.2 1667.1 349.6 1669.4 356.0 C1671.7 362.4 1673.7 368.4 1676.5 374.5 C1679.3 380.6 1682.7 387.0 1686.5 392.7 C1690.3 398.4 1695.0 404.0 1699.2 408.5 C1703.4 413.0 1707.3 416.4 1711.8 419.6 C1716.3 422.8 1721.0 425.4 1726.0 427.5 C1731.0 429.6 1735.3 430.4 1741.9 432.3 C1748.5 434.2 1757.7 436.8 1765.6 438.6 C1773.5 440.4 1781.2 441.9 1789.4 443.3 C1797.6 444.7 1810.7 446.4 1815.0 447.0" stroke="url(#hgB3)" stroke-width="10.4"/>
<path d="M1787.5 185.0 C1788.8 188.5 1792.4 198.7 1795.0 205.8 C1797.6 212.9 1800.0 219.3 1803.0 227.5 C1806.0 235.7 1809.8 246.2 1813.0 255.0 C1816.2 263.8 1818.9 272.0 1822.0 280.0 C1825.1 288.0 1827.8 295.5 1831.6 303.0 C1835.4 310.5 1839.7 317.5 1845.0 325.0 C1850.3 332.5 1856.6 340.8 1863.3 348.0 C1870.0 355.2 1877.2 362.0 1885.0 368.0 C1892.8 374.0 1905.8 381.3 1910.0 384.0" stroke="url(#hgC3)" stroke-width="10.8"/>
</g>
<g filter="url(#hb2)">
<path d="M1638.5 402.0 C1639.2 403.9 1641.3 410.3 1643.0 413.5 C1644.7 416.7 1646.1 418.4 1648.6 421.2 C1651.1 424.0 1654.8 427.6 1658.0 430.5 C1661.2 433.4 1664.4 436.2 1667.6 438.6 C1670.8 441.0 1673.8 442.8 1677.0 444.8 C1680.2 446.8 1682.3 448.1 1686.5 450.4 C1690.7 452.7 1697.1 456.1 1702.4 458.4 C1707.7 460.6 1712.9 462.2 1718.2 463.9 C1723.5 465.6 1728.7 467.1 1734.0 468.6 C1739.3 470.1 1744.5 471.7 1749.8 473.0 C1755.1 474.3 1760.3 475.4 1765.6 476.5 C1770.9 477.6 1776.2 478.8 1781.5 479.7 C1786.8 480.6 1793.2 481.6 1797.3 482.2 C1801.4 482.8 1803.4 483.0 1806.0 483.4 C1808.6 483.8 1808.7 484.0 1813.0 484.5 C1817.3 485.0 1825.4 485.8 1831.6 486.4 C1837.8 487.0 1846.9 488.1 1850.0 488.4" stroke="url(#hgA4)" stroke-width="7.0"/>
<path d="M1800.0 482.6 C1802.5 483.0 1809.7 484.1 1815.0 484.7 C1820.3 485.3 1824.9 485.7 1831.6 486.4 C1838.3 487.1 1847.1 488.1 1855.0 488.8 C1862.9 489.5 1871.5 490.2 1879.0 490.8 C1886.5 491.4 1893.4 491.8 1900.0 492.2 C1906.6 492.6 1910.3 492.7 1918.6 493.1 C1926.9 493.5 1944.8 494.3 1950.0 494.5" stroke="url(#hgAt4)" stroke-width="3.3"/>
<path d="M1641.6 185.0 C1641.8 190.0 1642.3 205.3 1643.0 215.0 C1643.7 224.7 1644.2 234.3 1645.5 243.3 C1646.8 252.3 1649.2 258.5 1651.0 269.0 C1652.8 279.5 1654.0 295.3 1656.0 306.5 C1658.0 317.7 1660.6 327.8 1662.8 336.0 C1665.0 344.2 1667.1 349.6 1669.4 356.0 C1671.7 362.4 1673.7 368.4 1676.5 374.5 C1679.3 380.6 1682.7 387.0 1686.5 392.7 C1690.3 398.4 1695.0 404.0 1699.2 408.5 C1703.4 413.0 1707.3 416.4 1711.8 419.6 C1716.3 422.8 1721.0 425.4 1726.0 427.5 C1731.0 429.6 1735.3 430.4 1741.9 432.3 C1748.5 434.2 1757.7 436.8 1765.6 438.6 C1773.5 440.4 1781.2 441.9 1789.4 443.3 C1797.6 444.7 1810.7 446.4 1815.0 447.0" stroke="url(#hgB4)" stroke-width="8.1"/>
</g>
<g filter="url(#hb1)">
<path d="M1638.5 402.0 C1639.2 403.9 1641.3 410.3 1643.0 413.5 C1644.7 416.7 1646.1 418.4 1648.6 421.2 C1651.1 424.0 1654.8 427.6 1658.0 430.5 C1661.2 433.4 1664.4 436.2 1667.6 438.6 C1670.8 441.0 1673.8 442.8 1677.0 444.8 C1680.2 446.8 1682.3 448.1 1686.5 450.4 C1690.7 452.7 1697.1 456.1 1702.4 458.4 C1707.7 460.6 1712.9 462.2 1718.2 463.9 C1723.5 465.6 1728.7 467.1 1734.0 468.6 C1739.3 470.1 1744.5 471.7 1749.8 473.0 C1755.1 474.3 1760.3 475.4 1765.6 476.5 C1770.9 477.6 1776.2 478.8 1781.5 479.7 C1786.8 480.6 1793.2 481.6 1797.3 482.2 C1801.4 482.8 1803.4 483.0 1806.0 483.4 C1808.6 483.8 1808.7 484.0 1813.0 484.5 C1817.3 485.0 1825.4 485.8 1831.6 486.4 C1837.8 487.0 1846.9 488.1 1850.0 488.4" stroke="url(#hgA5)" stroke-width="5.4"/>
</g>
<g filter="url(#hb1)">
<path d="M1638.5 402.0 C1639.2 403.9 1641.3 410.3 1643.0 413.5 C1644.7 416.7 1646.1 418.4 1648.6 421.2 C1651.1 424.0 1654.8 427.6 1658.0 430.5 C1661.2 433.4 1664.4 436.2 1667.6 438.6 C1670.8 441.0 1673.8 442.8 1677.0 444.8 C1680.2 446.8 1682.3 448.1 1686.5 450.4 C1690.7 452.7 1697.1 456.1 1702.4 458.4 C1707.7 460.6 1712.9 462.2 1718.2 463.9 C1723.5 465.6 1728.7 467.1 1734.0 468.6 C1739.3 470.1 1744.5 471.7 1749.8 473.0 C1755.1 474.3 1760.3 475.4 1765.6 476.5 C1770.9 477.6 1776.2 478.8 1781.5 479.7 C1786.8 480.6 1793.2 481.6 1797.3 482.2 C1801.4 482.8 1803.4 483.0 1806.0 483.4 C1808.6 483.8 1808.7 484.0 1813.0 484.5 C1817.3 485.0 1825.4 485.8 1831.6 486.4 C1837.8 487.0 1846.9 488.1 1850.0 488.4" stroke="url(#hgA6)" stroke-width="3.2"/>
</g>
<path d="M1664.0 421.0 C1666.1 422.7 1671.2 427.2 1676.7 431.0 C1682.2 434.8 1690.0 439.8 1697.0 443.5 C1704.0 447.2 1711.4 450.5 1718.6 453.5 C1725.8 456.5 1733.1 459.3 1740.0 461.6 C1746.9 463.9 1752.5 465.6 1760.0 467.5 C1767.5 469.4 1777.3 471.7 1785.0 473.3 C1792.7 474.9 1802.5 476.6 1806.0 477.2" stroke="#0018d0" stroke-width="2" opacity=".8" filter="url(#hb1)"/>
</g>
<text x="1499.5" y="204.5" font-size="30.5" fill="#3c3c3c" textLength="61.0" lengthAdjust="spacingAndGlyphs">2500</text>
<text x="1499.5" y="359.4" font-size="30.5" fill="#3c3c3c" textLength="61.0" lengthAdjust="spacingAndGlyphs">2000</text>
<text x="1499.5" y="515.2" font-size="30.5" fill="#3c3c3c" textLength="61.0" lengthAdjust="spacingAndGlyphs">1500</text>
<text x="1560.5" y="545.2" font-size="30.5" fill="#3c3c3c" textLength="15.5" lengthAdjust="spacingAndGlyphs">0</text>
<text x="1792.5" y="545.2" font-size="30.5" fill="#3c3c3c" textLength="30.5" lengthAdjust="spacingAndGlyphs">50</text>
<text x="2025.5" y="545.2" font-size="30.5" fill="#3c3c3c" textLength="45.5" lengthAdjust="spacingAndGlyphs">100</text>
<text x="1701.5" y="592.0" font-size="31" fill="#3c3c3c" textLength="213.0" lengthAdjust="spacingAndGlyphs">Frequency (Hz)</text>
<text transform="translate(1480.2,492.5) rotate(-90)" x="0" y="0" font-size="31" fill="#3c3c3c" textLength="276.7" lengthAdjust="spacingAndGlyphs">Phase velocity (m/s)</text>
</g>
<g id="velocity">
<rect x="331.2" y="654.2" width="479.6" height="292.2" fill="#fff" stroke="#303030" stroke-width="3.6"/>
<path d="M349 654.2 v6 M349 946.4 v-6 M520 654.2 v6 M520 946.4 v-6 M691 654.2 v6 M691 946.4 v-6 M331.2 745.4 h6 M810.8 745.4 h-6 M331.2 836.4 h6 M810.8 836.4 h-6 M331.2 927.7 h6 M810.8 927.7 h-6" stroke="#303030" stroke-width="2.6" fill="none"/>
<path d="M349 655.5 V682.6 H387.5 V691 H491 V703 H564.5 V724.8 H600.5 V759.6 H653.5 V813.8 H761 V905.6 H795 V938" fill="none" stroke="#f01010" stroke-width="3.3" stroke-linejoin="miter"/>
<text x="318.5" y="629.6" font-size="30.5" fill="#3c3c3c" textLength="61.0" lengthAdjust="spacingAndGlyphs">1600</text>
<text x="489.5" y="629.6" font-size="30.5" fill="#3c3c3c" textLength="61.0" lengthAdjust="spacingAndGlyphs">1800</text>
<text x="660.5" y="629.6" font-size="30.5" fill="#3c3c3c" textLength="61.0" lengthAdjust="spacingAndGlyphs">2000</text>
<text x="307.5" y="660.2" font-size="30.5" fill="#3c3c3c" textLength="15.5" lengthAdjust="spacingAndGlyphs">0</text>
<text x="261.0" y="751.2" font-size="30.5" fill="#3c3c3c" textLength="62.0" lengthAdjust="spacingAndGlyphs">1000</text>
<text x="261.0" y="842.2" font-size="30.5" fill="#3c3c3c" textLength="62.0" lengthAdjust="spacingAndGlyphs">2000</text>
<text x="261.0" y="933.8" font-size="30.5" fill="#3c3c3c" textLength="62.0" lengthAdjust="spacingAndGlyphs">3000</text>
<text x="479.0" y="582.6" font-size="31" fill="#3c3c3c" textLength="183.5" lengthAdjust="spacingAndGlyphs">Velocity(m/s)</text>
<text transform="translate(240.0,865.5) rotate(-90)" x="0" y="0" font-size="31" fill="#3c3c3c" textLength="133.5" lengthAdjust="spacingAndGlyphs">Dpeth(m)</text>
</g>
<g id="dispersion">
<rect x="1332.2" y="663.2" width="472.6" height="307.1" fill="#fff"/>
<path d="M1426.7 663.2 V970.3 M1521.2 663.2 V970.3 M1615.8 663.2 V970.3 M1710.3 663.2 V970.3 M1332.2 751.1 H1804.8 M1332.2 839.0 H1804.8 M1332.2 926.9 H1804.8" stroke="#dcdcdc" stroke-width="2.4" fill="none"/>
<path d="M1379.5 737.0 L1387.7 804.7 L1395.1 669.8 L1402.8 707.2 L1409.3 753.3 L1418.2 766.5 L1426.2 788.5 L1434.6 807.4 L1441.8 817.0 L1449.9 831.5 L1457.4 845.6 L1465.5 860.1 L1473.0 871.1 L1480.6 887.3 L1488.2 899.2 L1495.7 906.0 L1503.3 911.2 L1510.8 915.8 L1518.4 919.1 L1526.0 921.8" stroke="#f01414" stroke-width="2.8" fill="none" stroke-linejoin="round" stroke-dasharray="13 6"/>
<path d="M1379.5 868.9 L1387.7 877.7 L1395.1 669.8 L1402.8 828.0 L1409.3 843.4 L1418.2 843.4 L1426.2 849.1 L1434.6 856.6 L1441.8 863.2 L1449.9 871.1 L1457.4 879.9 L1465.5 888.7 L1473.0 898.8 L1480.6 908.4 L1488.2 910.6 L1495.7 917.5 L1503.3 922.6 L1510.8 927.2 L1518.4 930.5 L1526.0 933.3" stroke="#f01414" stroke-width="2.8" fill="none" stroke-linejoin="round" stroke-dasharray="13 6"/>
<path d="M1374.9 737.0 h9.2 M1379.5 732.4 v9.2 M1383.1 804.7 h9.2 M1387.7 800.1 v9.2 M1390.5 669.8 h9.2 M1395.1 665.2 v9.2 M1398.2 707.2 h9.2 M1402.8 702.6 v9.2 M1404.7 753.3 h9.2 M1409.3 748.7 v9.2 M1413.6 766.5 h9.2 M1418.2 761.9 v9.2 M1421.6 788.5 h9.2 M1426.2 783.9 v9.2 M1430.0 807.4 h9.2 M1434.6 802.8 v9.2 M1437.2 817.0 h9.2 M1441.8 812.4 v9.2 M1445.3 831.5 h9.2 M1449.9 826.9 v9.2 M1452.8 845.6 h9.2 M1457.4 841.0 v9.2 M1460.9 860.1 h9.2 M1465.5 855.5 v9.2 M1468.4 871.1 h9.2 M1473.0 866.5 v9.2 M1476.0 887.3 h9.2 M1480.6 882.7 v9.2 M1483.6 899.2 h9.2 M1488.2 894.6 v9.2 M1491.1 906.0 h9.2 M1495.7 901.4 v9.2 M1498.7 911.2 h9.2 M1503.3 906.6 v9.2 M1506.2 915.8 h9.2 M1510.8 911.2 v9.2 M1513.8 919.1 h9.2 M1518.4 914.5 v9.2 M1521.4 921.8 h9.2 M1526.0 917.2 v9.2" stroke="#f01414" stroke-width="2.6" fill="none"/>
<path d="M1374.9 868.9 h9.2 M1379.5 864.3 v9.2 M1383.1 877.7 h9.2 M1387.7 873.1 v9.2 M1390.5 669.8 h9.2 M1395.1 665.2 v9.2 M1398.2 828.0 h9.2 M1402.8 823.4 v9.2 M1404.7 843.4 h9.2 M1409.3 838.8 v9.2 M1413.6 843.4 h9.2 M1418.2 838.8 v9.2 M1421.6 849.1 h9.2 M1426.2 844.5 v9.2 M1430.0 856.6 h9.2 M1434.6 852.0 v9.2 M1437.2 863.2 h9.2 M1441.8 858.6 v9.2 M1445.3 871.1 h9.2 M1449.9 866.5 v9.2 M1452.8 879.9 h9.2 M1457.4 875.3 v9.2 M1460.9 888.7 h9.2 M1465.5 884.1 v9.2 M1468.4 898.8 h9.2 M1473.0 894.2 v9.2 M1476.0 908.4 h9.2 M1480.6 903.8 v9.2 M1483.6 910.6 h9.2 M1488.2 906.0 v9.2 M1491.1 917.5 h9.2 M1495.7 912.9 v9.2 M1498.7 922.6 h9.2 M1503.3 918.0 v9.2 M1506.2 927.2 h9.2 M1510.8 922.6 v9.2 M1513.8 930.5 h9.2 M1518.4 925.9 v9.2 M1521.4 933.3 h9.2 M1526.0 928.7 v9.2" stroke="#f01414" stroke-width="2.6" fill="none"/>
<path d="M1379.5 823.2 L1387.7 852.2 L1395.1 663.2 L1402.8 782.3 L1409.3 806.0 L1418.2 809.6 L1426.2 820.5 L1434.6 835.0 L1441.8 839.9 L1449.9 849.1 L1457.4 860.1 L1465.5 870.6 L1473.0 881.6 L1480.6 895.3 L1484.4 900.6 L1488.3 904.7 L1492.3 908.7 L1496.3 911.7 L1500.3 914.5 L1504.2 917.1 L1508.2 919.5 L1512.2 921.8 L1516.1 923.4 L1520.1 925.1 L1524.1 926.5 L1528.0 927.8 L1532.0 929.1 L1536.0 930.4 L1540.0 931.7 L1543.9 932.8 L1547.9 933.9 L1551.9 934.8 L1555.8 935.5 L1559.8 936.2 L1563.8 936.8 L1567.7 937.3 L1571.7 937.9 L1575.7 938.5 L1579.7 939.0 L1583.6 939.4 L1587.6 939.9 L1591.6 940.3 L1595.5 940.8 L1599.5 941.3 L1603.5 941.7 L1607.4 942.2 L1611.4 942.7 L1615.4 943.1 L1619.4 943.6 L1623.3 944.0 L1627.3 944.5 L1631.3 945.0 L1635.2 945.4 L1639.2 945.8 L1643.2 946.2 L1647.1 946.5 L1651.1 946.9 L1655.1 947.2 L1659.1 947.4 L1663.0 947.6 L1667.0 947.7 L1671.0 947.9 L1674.9 948.2 L1678.9 948.4 L1682.9 948.7 L1686.8 949.0 L1690.8 949.3 L1694.8 949.6 L1698.7 949.8 L1702.7 950.1 L1706.7 950.4 L1710.7 950.6 L1714.6 950.6 L1718.6 950.6 L1722.6 950.4 L1726.5 950.0" stroke="#000" stroke-width="2.4" fill="none" stroke-linejoin="round"/>
<path d="M1387.7 877.7 L1395.1 667.6 L1401.2 795.0" stroke="#f01414" stroke-width="2.6" fill="none" stroke-linejoin="round"/>
<path d="M1395.1 665.4 L1402.8 782.3" stroke="#000" stroke-width="2.4" fill="none"/>
<g fill="#000"><circle cx="1379.5" cy="823.2" r="7.2"/><circle cx="1387.7" cy="852.2" r="7.2"/><circle cx="1395.1" cy="663.2" r="7.2"/><circle cx="1402.8" cy="782.3" r="7.2"/><circle cx="1409.3" cy="806.0" r="7.2"/><circle cx="1418.2" cy="809.6" r="7.2"/><circle cx="1426.2" cy="820.5" r="7.2"/><circle cx="1434.6" cy="835.0" r="7.2"/><circle cx="1441.8" cy="839.9" r="7.2"/><circle cx="1449.9" cy="849.1" r="7.2"/><circle cx="1457.4" cy="860.1" r="7.2"/><circle cx="1465.5" cy="870.6" r="7.2"/><circle cx="1473.0" cy="881.6" r="7.2"/><circle cx="1480.6" cy="895.3" r="7.2"/><circle cx="1484.4" cy="900.6" r="7.2"/><circle cx="1488.3" cy="904.7" r="7.2"/><circle cx="1492.3" cy="908.7" r="7.2"/><circle cx="1496.3" cy="911.7" r="7.2"/><circle cx="1500.3" cy="914.5" r="7.2"/><circle cx="1504.2" cy="917.1" r="7.2"/><circle cx="1508.2" cy="919.5" r="7.2"/><circle cx="1512.2" cy="921.8" r="7.2"/><circle cx="1516.1" cy="923.4" r="7.2"/><circle cx="1520.1" cy="925.1" r="7.2"/><circle cx="1524.1" cy="926.5" r="7.2"/><circle cx="1528.0" cy="927.8" r="7.2"/><circle cx="1532.0" cy="929.1" r="7.2"/><circle cx="1536.0" cy="930.4" r="7.2"/><circle cx="1540.0" cy="931.7" r="7.2"/><circle cx="1543.9" cy="932.8" r="7.2"/><circle cx="1547.9" cy="933.9" r="7.2"/><circle cx="1551.9" cy="934.8" r="7.2"/><circle cx="1555.8" cy="935.5" r="7.2"/><circle cx="1559.8" cy="936.2" r="7.2"/><circle cx="1563.8" cy="936.8" r="7.2"/><circle cx="1567.7" cy="937.3" r="7.2"/><circle cx="1571.7" cy="937.9" r="7.2"/><circle cx="1575.7" cy="938.5" r="7.2"/><circle cx="1579.7" cy="939.0" r="7.2"/><circle cx="1583.6" cy="939.4" r="7.2"/><circle cx="1587.6" cy="939.9" r="7.2"/><circle cx="1591.6" cy="940.3" r="7.2"/><circle cx="1595.5" cy="940.8" r="7.2"/><circle cx="1599.5" cy="941.3" r="7.2"/><circle cx="1603.5" cy="941.7" r="7.2"/><circle cx="1607.4" cy="942.2" r="7.2"/><circle cx="1611.4" cy="942.7" r="7.2"/><circle cx="1615.4" cy="943.1" r="7.2"/><circle cx="1619.4" cy="943.6" r="7.2"/><circle cx="1623.3" cy="944.0" r="7.2"/><circle cx="1627.3" cy="944.5" r="7.2"/><circle cx="1631.3" cy="945.0" r="7.2"/><circle cx="1635.2" cy="945.4" r="7.2"/><circle cx="1639.2" cy="945.8" r="7.2"/><circle cx="1643.2" cy="946.2" r="7.2"/><circle cx="1647.1" cy="946.5" r="7.2"/><circle cx="1651.1" cy="946.9" r="7.2"/><circle cx="1655.1" cy="947.2" r="7.2"/><circle cx="1659.1" cy="947.4" r="7.2"/><circle cx="1663.0" cy="947.6" r="7.2"/><circle cx="1667.0" cy="947.7" r="7.2"/><circle cx="1671.0" cy="947.9" r="7.2"/><circle cx="1674.9" cy="948.2" r="7.2"/><circle cx="1678.9" cy="948.4" r="7.2"/><circle cx="1682.9" cy="948.7" r="7.2"/><circle cx="1686.8" cy="949.0" r="7.2"/><circle cx="1690.8" cy="949.3" r="7.2"/><circle cx="1694.8" cy="949.6" r="7.2"/><circle cx="1698.7" cy="949.8" r="7.2"/><circle cx="1702.7" cy="950.1" r="7.2"/><circle cx="1706.7" cy="950.4" r="7.2"/><circle cx="1710.7" cy="950.6" r="7.2"/><circle cx="1714.6" cy="950.6" r="7.2"/><circle cx="1718.6" cy="950.6" r="7.2"/><circle cx="1722.6" cy="950.4" r="7.2"/><circle cx="1726.5" cy="950.0" r="7.2"/></g>
<rect x="1332.2" y="663.2" width="472.6" height="307.1" fill="none" stroke="#2c2c2c" stroke-width="3.4"/>
<path d="M1332.2 656.4 V663.2 M1332.2 977.1 V970.3 M1426.7 656.4 V663.2 M1426.7 977.1 V970.3 M1521.2 656.4 V663.2 M1521.2 977.1 V970.3 M1615.8 656.4 V663.2 M1615.8 977.1 V970.3 M1710.3 656.4 V663.2 M1710.3 977.1 V970.3 M1804.8 656.4 V663.2 M1804.8 977.1 V970.3 M1325.4 663.2 H1332.2 M1811.6 663.2 H1804.8 M1325.4 751.1 H1332.2 M1811.6 751.1 H1804.8 M1325.4 839.0 H1332.2 M1811.6 839.0 H1804.8 M1325.4 926.9 H1332.2 M1811.6 926.9 H1804.8" stroke="#2c2c2c" stroke-width="2.8" fill="none"/>
<text x="1324.5" y="1011.0" font-size="30.5" fill="#3c3c3c" textLength="15.5" lengthAdjust="spacingAndGlyphs">0</text>
<text x="1411.2" y="1011.0" font-size="30.5" fill="#3c3c3c" textLength="31.0" lengthAdjust="spacingAndGlyphs">10</text>
<text x="1505.7" y="1011.0" font-size="30.5" fill="#3c3c3c" textLength="31.0" lengthAdjust="spacingAndGlyphs">20</text>
<text x="1600.3" y="1011.0" font-size="30.5" fill="#3c3c3c" textLength="31.0" lengthAdjust="spacingAndGlyphs">30</text>
<text x="1694.8" y="1011.0" font-size="30.5" fill="#3c3c3c" textLength="31.0" lengthAdjust="spacingAndGlyphs">40</text>
<text x="1789.3" y="1011.0" font-size="30.5" fill="#3c3c3c" textLength="31.0" lengthAdjust="spacingAndGlyphs">50</text>
<text x="1257.5" y="669.0" font-size="30.5" fill="#3c3c3c" textLength="60.5" lengthAdjust="spacingAndGlyphs">2200</text>
<text x="1257.5" y="756.9" font-size="30.5" fill="#3c3c3c" textLength="60.5" lengthAdjust="spacingAndGlyphs">2000</text>
<text x="1257.5" y="844.8" font-size="30.5" fill="#3c3c3c" textLength="60.5" lengthAdjust="spacingAndGlyphs">1800</text>
<text x="1257.5" y="932.7" font-size="30.5" fill="#3c3c3c" textLength="60.5" lengthAdjust="spacingAndGlyphs">1600</text>
<text x="1464.5" y="1054.6" font-size="31" fill="#3c3c3c" textLength="207.0" lengthAdjust="spacingAndGlyphs">Frequency(Hz)</text>
<text transform="translate(1235.5,953.0) rotate(-90)" x="0" y="0" font-size="31" fill="#3c3c3c" textLength="270.0" lengthAdjust="spacingAndGlyphs">Phase-velocity(m/s)</text>
</g>
</svg>
</body>
</html>
